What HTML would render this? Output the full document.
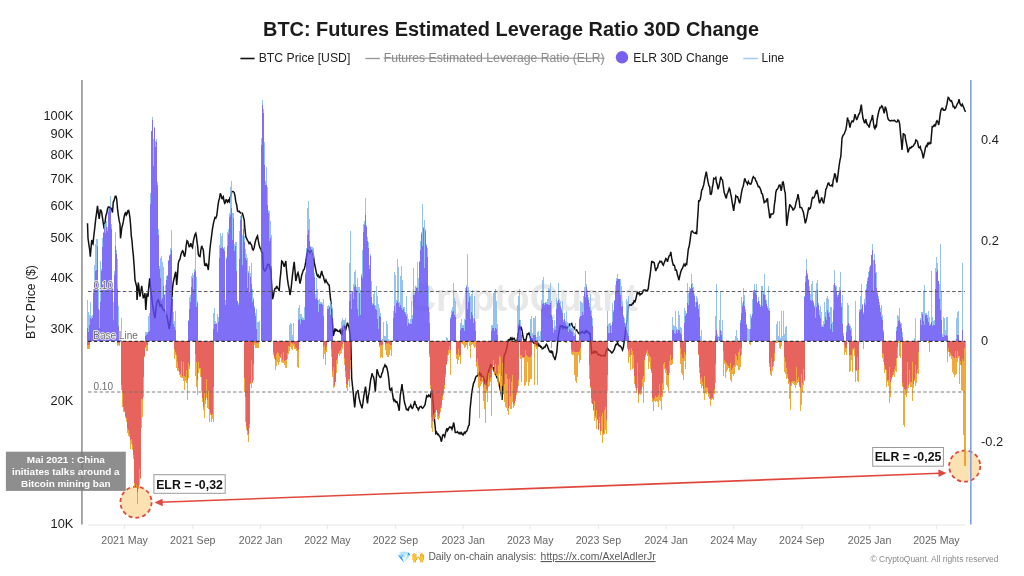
<!DOCTYPE html>
<html><head><meta charset="utf-8"><title>BTC: Futures Estimated Leverage Ratio 30D Change</title>
<style>html,body{margin:0;padding:0;background:#fff;overflow:hidden;width:1024px;height:576px;} svg{display:block;}</style></head>
<body><svg width="1024" height="576" viewBox="0 0 1024 576">
<rect width="1024" height="576" fill="#fff"/>
<text x="409" y="311" font-family="Liberation Sans, sans-serif" font-weight="bold" font-size="38" fill="#e8e8e8" textLength="229" lengthAdjust="spacingAndGlyphs">CryptoQuant</text>
<polyline points="87.5,223.3 88.0,238.3 88.8,244.0 89.7,250.0 90.3,256.7 91.0,248.5 91.7,240.0 92.3,243.3 93.0,244.0 93.8,236.0 94.7,228.3 95.8,218.3 96.7,212.1 97.5,205.8 98.3,212.7 99.2,219.0 100.3,210.0 101.0,210.3 101.7,212.5 102.5,217.9 103.3,223.3 104.2,229.0 105.0,222.8 105.8,215.8 106.7,213.3 107.5,209.0 108.3,207.0 109.2,207.5 110.0,207.2 110.8,208.0 111.7,209.0 112.5,212.5 113.3,201.7 114.0,200.8 114.6,198.6 115.3,196.2 116.0,196.2 116.7,199.0 117.5,208.4 118.3,215.0 119.2,220.9 120.0,224.0 120.5,238.3 121.1,233.8 121.7,228.3 122.5,225.3 123.3,221.7 124.2,216.5 125.0,213.3 125.7,212.7 126.3,215.0 127.1,213.6 127.9,210.7 128.7,210.5 129.3,213.5 130.0,218.3 130.7,226.3 131.3,235.8 132.0,240.8 132.6,248.5 133.3,255.0 134.2,266.7 135.0,280.0 135.8,283.2 136.7,286.7 137.0,300.0 137.7,292.3 138.3,282.5 139.2,289.7 140.0,296.7 140.8,291.7 141.7,285.8 142.5,292.0 143.3,298.3 144.2,296.3 145.0,293.3 145.8,310.0 146.4,301.5 147.0,293.3 148.0,296.7 148.8,286.8 149.7,278.3 150.4,285.9 151.0,292.1 151.7,296.7 152.5,304.4 153.3,310.0 154.2,314.8 155.0,318.3 155.8,310.2 156.7,303.3 157.5,300.8 158.3,300.0 159.2,302.7 160.0,306.7 160.8,304.6 161.7,305.0 162.5,308.3 163.3,310.0 164.2,310.1 165.0,310.8 165.8,313.9 166.7,315.0 167.5,318.8 168.3,323.3 169.2,329.2 170.0,324.3 170.8,316.7 171.7,303.5 172.5,288.3 173.3,281.8 174.2,278.3 175.0,274.1 175.8,271.7 176.7,285.0 177.5,275.4 178.3,263.3 179.1,260.4 180.0,259.2 180.8,255.0 181.7,252.6 182.5,250.8 183.2,251.5 184.0,255.1 184.7,256.7 185.5,252.2 186.2,245.4 187.0,240.8 187.7,241.5 188.5,244.2 189.2,246.7 190.0,246.4 190.8,243.3 191.7,246.2 192.5,247.5 193.3,241.4 194.2,237.5 195.0,234.6 195.8,233.3 196.4,236.3 197.0,241.7 197.7,246.6 198.3,254.2 199.2,256.3 200.0,256.7 200.8,250.3 201.7,245.8 202.5,248.1 203.3,250.0 204.0,257.7 204.7,265.8 205.4,264.3 206.0,265.4 206.7,264.2 207.5,266.0 208.3,270.0 209.0,261.3 209.7,251.7 210.4,245.0 211.0,240.3 211.7,235.0 212.5,228.7 213.3,224.2 214.2,220.2 215.0,217.5 215.8,218.1 216.7,215.8 217.3,211.3 218.0,205.0 218.8,200.5 219.5,198.4 220.3,193.3 221.2,195.4 222.0,199.2 222.7,197.6 223.3,196.7 224.0,201.1 224.7,203.3 225.4,202.6 226.0,199.9 226.7,200.0 227.5,202.0 228.4,200.3 229.2,201.7 230.0,197.6 230.9,195.9 231.7,191.7 232.5,191.5 233.4,191.6 234.2,192.5 235.0,195.8 235.8,201.7 236.7,205.0 237.5,210.8 238.3,211.6 239.2,211.2 240.0,212.5 240.8,213.1 241.7,212.6 242.5,213.3 243.3,216.5 244.2,220.0 245.0,229.7 245.8,236.7 246.6,238.3 247.5,240.3 248.3,241.7 249.1,243.6 250.0,242.4 250.8,244.2 251.6,245.1 252.5,249.3 253.3,250.0 254.2,247.5 255.0,243.0 255.8,239.9 256.7,237.4 257.5,236.0 258.3,240.7 259.2,245.3 260.0,248.0 260.8,248.6 261.7,252.4 262.5,252.5 263.3,267.7 264.1,270.5 265.0,271.0 265.8,269.6 266.6,267.4 267.5,264.8 268.3,264.3 269.1,264.6 270.0,269.0 270.8,269.3 271.6,283.5 272.5,299.3 273.4,295.8 274.2,291.0 275.0,288.6 275.9,288.6 276.7,286.0 277.5,288.0 278.4,288.7 279.2,291.0 280.0,280.0 280.9,271.7 281.7,261.0 282.5,261.6 283.4,264.1 284.2,266.8 285.0,264.1 285.8,261.0 286.6,271.2 287.5,279.3 288.3,284.9 289.2,289.1 290.0,295.0 290.9,290.1 291.7,282.7 292.5,274.8 293.4,267.3 294.2,261.8 295.0,270.7 295.8,281.0 296.5,278.1 297.3,274.1 298.0,272.7 298.7,275.3 299.3,279.5 300.0,283.5 300.8,280.1 301.7,275.2 302.5,272.7 303.3,270.1 304.2,269.4 305.0,266.0 305.8,261.9 306.7,255.3 307.5,249.3 308.3,251.0 309.2,251.8 310.0,252.7 310.8,251.1 311.7,250.2 312.5,251.0 313.3,254.6 314.2,262.2 315.0,266.0 315.8,269.9 316.7,274.1 317.5,276.0 318.3,275.1 319.2,277.5 320.0,277.7 320.9,274.3 321.7,271.0 322.5,274.7 323.4,276.5 324.2,280.0 325.0,282.1 325.9,279.9 326.7,281.8 327.5,283.0 328.4,284.6 329.2,285.0 330.0,294.2 330.8,301.0 331.4,307.6 332.0,312.7 332.6,325.0 333.3,336.0 334.1,333.1 335.0,328.5 335.8,330.6 336.7,329.7 337.5,331.0 338.3,331.2 339.2,331.5 340.0,330.0 340.9,333.3 341.7,334.3 342.5,330.7 343.4,328.5 344.2,324.3 345.0,327.9 345.8,329.3 346.6,326.2 347.5,322.7 348.4,325.6 349.2,327.7 350.0,334.3 350.8,341.7 351.7,378.3 352.5,386.0 353.3,393.3 354.0,400.7 354.7,407.5 355.8,395.0 356.5,392.1 357.3,392.1 358.0,390.0 358.7,395.4 359.3,398.9 360.0,401.7 360.7,404.6 361.3,405.8 362.0,408.3 362.9,403.2 363.7,396.7 364.6,391.9 365.5,386.7 366.2,392.1 366.8,398.8 367.5,403.3 368.3,396.0 369.2,391.9 370.0,385.0 370.7,379.7 371.3,377.5 372.0,373.3 372.7,375.5 373.5,377.0 374.2,380.0 375.3,391.7 376.1,381.0 377.0,369.2 377.9,372.1 378.7,375.0 379.5,376.6 380.3,377.5 381.0,377.1 381.8,373.4 382.5,372.5 383.3,368.5 384.2,366.9 385.0,365.0 385.7,366.6 386.3,366.3 387.0,368.3 387.9,372.3 388.7,378.3 389.7,389.2 390.4,390.1 391.0,389.1 391.7,388.3 392.5,393.6 393.3,399.2 394.0,400.9 394.6,399.7 395.3,400.8 396.0,402.1 396.8,401.6 397.5,403.3 398.4,406.8 399.2,410.8 400.3,395.0 401.1,390.5 402.0,384.2 402.6,390.0 403.3,393.3 404.0,399.4 404.7,403.3 405.5,405.9 406.3,409.2 407.0,409.7 407.6,409.2 408.3,410.0 409.1,407.2 410.0,406.7 410.8,405.0 411.6,407.7 412.5,408.3 413.2,406.8 414.0,403.9 414.7,400.8 415.4,404.4 416.0,404.6 416.7,407.5 417.5,407.8 418.3,410.0 419.0,408.8 419.6,407.1 420.3,406.7 421.0,406.4 421.8,407.5 422.5,408.3 423.3,407.6 424.2,406.1 425.0,405.0 425.9,399.8 426.7,395.8 427.4,396.6 428.0,396.7 428.7,395.0 429.5,395.7 430.3,396.7 431.1,392.1 432.0,390.0 432.6,396.1 433.3,405.0 434.0,414.5 434.7,421.7 435.8,433.3 436.6,432.2 437.5,434.5 438.3,434.2 439.1,435.7 440.0,436.7 440.6,438.6 441.3,441.7 441.9,439.6 442.5,435.8 443.2,434.7 444.0,435.3 444.7,436.7 445.5,433.2 446.3,430.0 447.0,428.3 447.6,430.5 448.3,429.2 449.0,427.8 449.6,427.0 450.3,427.5 451.1,427.0 452.0,429.2 452.9,426.2 453.7,422.5 454.5,427.3 455.3,432.5 456.0,432.6 456.8,432.4 457.5,431.7 458.3,432.9 459.2,433.6 460.0,432.5 460.8,433.7 461.5,432.8 462.2,434.3 463.0,435.0 463.7,433.5 464.3,432.4 465.0,433.3 465.8,431.8 466.7,431.2 467.5,429.2 468.4,426.1 469.2,425.0 470.0,410.0 470.9,401.0 471.7,393.3 472.6,387.8 473.5,383.3 474.4,381.6 475.2,378.8 476.1,376.4 476.8,376.0 477.5,375.8 478.1,374.0 478.8,374.5 479.5,372.9 480.2,374.8 480.9,373.1 481.6,376.3 482.3,376.4 483.0,376.4 483.9,378.2 484.7,382.0 485.6,385.0 486.5,381.4 487.3,378.2 488.2,373.0 489.1,369.7 489.9,367.3 490.8,364.2 491.7,366.5 492.5,367.4 493.4,367.7 494.3,371.4 495.1,372.3 496.0,374.7 496.9,377.5 497.7,378.4 498.6,381.6 499.3,385.3 500.0,388.7 500.6,391.2 501.3,393.8 502.1,400.0 503.0,379.3 503.9,357.3 504.6,354.0 505.3,353.6 505.9,351.4 506.6,348.9 507.3,345.0 508.2,340.0 509.0,339.7 509.7,340.1 510.5,338.3 511.2,339.6 512.0,338.0 512.7,339.6 513.4,338.6 514.1,338.3 514.8,339.9 515.5,340.8 516.2,342.0 516.9,341.7 517.8,336.4 518.6,329.8 519.5,326.0 520.3,328.4 521.2,327.6 522.0,330.4 522.9,336.1 523.8,340.0 524.7,339.9 525.6,341.7 526.5,337.3 527.3,333.9 528.1,334.3 529.0,333.0 529.9,335.4 530.8,340.0 531.5,339.6 532.3,341.4 533.0,342.0 533.8,343.0 534.5,343.7 535.2,343.6 536.0,343.4 536.7,345.3 537.4,344.4 538.0,346.3 538.7,344.2 539.4,346.0 540.1,345.7 540.8,347.1 541.5,346.9 542.2,348.8 542.9,348.6 543.6,348.2 544.3,346.9 545.0,347.1 545.7,345.3 546.4,344.3 547.3,345.7 548.1,347.9 549.0,350.3 549.7,351.7 550.4,352.2 551.1,350.4 551.8,352.7 552.5,352.0 553.3,356.1 554.2,357.4 555.0,360.0 555.9,356.2 556.8,352.0 557.6,342.5 558.5,334.7 559.4,330.5 560.3,326.0 561.0,326.2 561.7,326.7 562.4,325.2 563.1,328.2 563.8,327.0 564.5,327.2 565.2,327.0 565.8,328.4 566.5,327.8 567.2,327.8 568.0,327.1 568.7,326.9 569.5,324.3 570.2,325.0 571.0,324.0 571.7,323.5 572.5,326.3 573.4,327.7 574.2,327.2 575.0,329.3 575.8,330.1 576.6,329.9 577.5,331.7 578.3,332.7 579.0,333.6 579.7,333.9 580.3,332.6 581.0,332.2 581.7,332.7 582.5,331.5 583.4,332.6 584.2,333.3 585.0,331.8 585.7,330.9 586.4,333.1 587.1,331.1 587.9,331.9 588.6,332.2 589.3,333.8 590.0,333.5 590.9,342.9 591.7,353.3 592.5,352.5 593.3,353.0 594.2,351.2 595.0,352.7 595.8,351.7 596.6,351.7 597.5,353.9 598.3,355.0 599.1,354.5 600.0,354.6 600.8,355.8 601.5,355.9 602.2,355.6 602.9,355.4 603.6,355.5 604.3,355.9 605.0,355.8 605.8,352.3 606.7,349.9 607.5,348.3 608.3,349.5 609.2,350.4 610.0,350.8 610.8,351.5 611.7,353.0 612.5,352.5 613.3,350.9 614.2,349.7 615.0,346.7 615.8,344.5 616.7,344.6 617.5,342.5 618.3,344.5 619.2,345.9 620.0,345.8 620.8,346.6 621.7,348.0 622.5,350.0 623.4,347.1 624.2,341.7 625.0,336.0 625.8,327.9 626.6,322.9 627.5,315.3 628.3,306.8 629.1,305.1 630.0,304.8 630.8,305.0 631.6,305.2 632.5,303.3 633.3,303.5 634.1,300.9 635.0,301.7 635.8,299.3 636.6,295.3 637.5,291.8 638.3,293.7 639.2,292.8 640.0,295.0 640.8,293.9 641.7,294.0 642.5,292.7 643.3,290.4 644.2,290.0 645.0,290.0 645.8,290.2 646.6,290.5 647.5,290.3 648.3,288.5 649.1,281.1 650.0,276.0 650.9,268.5 651.7,261.0 652.5,262.3 653.4,262.1 654.2,262.7 655.0,267.4 655.8,271.0 656.6,268.4 657.5,267.7 658.4,263.9 659.2,262.7 660.0,261.1 660.8,261.8 661.6,261.5 662.5,264.2 663.3,265.2 664.1,263.0 665.0,260.9 665.8,258.5 666.6,259.1 667.5,261.8 668.3,258.4 669.1,255.9 670.0,255.3 670.8,251.8 671.6,257.7 672.5,262.0 673.3,265.2 674.0,265.1 674.7,266.2 675.3,270.0 676.0,269.7 676.7,271.0 677.4,274.9 678.1,276.6 678.8,280.2 679.5,277.3 680.1,274.6 680.8,271.8 681.6,269.7 682.5,268.2 683.3,266.0 684.0,264.2 684.7,265.9 685.3,266.0 686.0,263.7 686.7,264.3 687.5,256.7 688.3,249.3 689.2,246.0 689.9,242.0 690.6,236.2 691.3,231.7 692.0,231.1 692.6,231.2 693.3,232.5 694.1,232.9 695.0,233.3 695.9,232.3 696.7,234.2 697.5,220.0 698.1,211.6 698.7,200.8 699.5,200.9 700.3,199.2 701.0,195.2 701.7,190.0 702.4,189.4 703.0,187.1 703.7,185.0 704.4,181.0 705.0,177.5 705.6,174.9 706.3,171.7 707.1,176.7 708.0,181.7 708.9,185.6 709.7,186.7 710.3,194.2 711.0,194.3 711.7,192.5 712.4,187.0 713.0,184.3 713.7,178.3 714.4,178.8 715.1,178.6 715.8,177.5 716.5,182.3 717.3,185.0 718.0,189.2 718.7,187.3 719.4,184.1 720.1,180.4 720.8,176.7 721.6,179.2 722.5,180.0 723.4,187.0 724.2,192.5 724.9,194.2 725.6,197.0 726.3,198.3 727.0,194.5 727.8,192.8 728.5,190.7 729.2,188.3 729.9,189.6 730.6,193.5 731.3,196.7 732.1,201.8 732.9,206.5 733.7,210.8 734.4,205.0 735.1,202.1 735.8,195.8 736.6,196.7 737.5,196.7 738.2,198.4 739.0,201.6 739.7,203.3 740.4,199.6 741.0,195.7 741.7,191.7 742.5,188.0 743.2,186.5 744.0,182.1 744.7,178.3 745.4,180.3 746.0,181.9 746.7,182.5 747.5,184.2 748.4,181.6 749.2,183.3 750.0,184.1 750.8,184.2 751.6,182.4 752.5,178.5 753.3,176.7 754.1,177.8 755.0,178.1 755.8,180.8 756.6,181.9 757.5,184.4 758.3,186.7 759.1,186.6 760.0,188.2 760.8,190.0 761.6,193.3 762.5,194.2 763.4,198.5 764.2,202.5 765.0,201.5 765.9,201.8 766.7,199.6 767.5,198.3 768.2,206.2 769.0,211.5 769.7,217.5 770.4,217.3 771.0,214.0 771.7,214.2 772.4,213.9 773.0,213.8 773.7,212.5 774.4,204.5 775.1,200.5 775.8,192.5 776.6,189.8 777.5,189.1 778.3,187.5 779.1,185.3 780.0,185.0 780.6,187.9 781.2,190.8 781.9,187.0 782.5,182.5 783.1,182.0 783.7,184.2 784.5,190.1 785.3,193.3 786.0,209.3 786.7,225.8 787.5,219.6 788.3,213.3 789.0,209.4 789.7,205.0 790.5,205.4 791.3,206.7 792.1,207.7 793.0,210.0 793.7,209.6 794.3,208.5 795.0,207.5 795.9,203.1 796.7,200.0 797.4,197.7 798.0,194.2 798.7,198.0 799.3,201.6 800.0,207.5 800.8,207.6 801.7,207.8 802.5,210.0 803.4,212.3 804.2,216.7 805.3,223.3 806.1,220.8 807.0,216.7 807.9,211.8 808.7,207.5 809.5,209.1 810.3,208.3 811.0,205.4 811.8,199.8 812.5,197.5 813.3,198.1 814.2,197.2 815.0,195.0 815.7,192.1 816.3,192.9 817.0,190.0 817.7,193.1 818.4,196.6 819.0,201.4 819.7,203.3 820.4,200.6 821.0,199.5 821.7,197.5 822.4,200.7 823.0,202.0 823.7,203.3 824.4,198.5 825.1,195.3 825.8,189.2 826.5,188.2 827.3,185.6 828.0,183.3 828.8,183.0 829.5,185.3 830.3,185.8 831.0,185.7 831.8,184.9 832.5,185.8 833.2,180.3 834.0,177.6 834.7,173.3 835.5,175.2 836.2,179.3 837.0,182.5 837.7,177.2 838.5,170.7 839.2,165.0 840.0,160.1 840.8,156.7 841.4,147.7 842.0,138.3 842.6,136.4 843.3,135.0 844.1,134.2 845.0,131.8 845.8,130.0 846.6,125.2 847.5,117.5 848.1,120.5 848.7,120.8 849.4,124.9 850.0,127.5 850.6,124.2 851.3,122.5 852.1,120.9 853.0,121.7 853.7,120.4 854.3,117.6 855.0,114.2 855.9,117.5 856.7,120.0 857.4,117.9 858.0,116.7 858.7,114.3 859.3,113.9 860.0,111.7 860.6,108.4 861.3,104.7 862.1,111.8 863.0,118.3 863.9,121.2 864.7,123.3 865.8,119.2 866.6,122.9 867.5,125.0 868.4,125.3 869.2,127.5 870.0,123.4 870.8,120.8 871.6,119.3 872.5,115.0 873.4,122.5 874.2,127.5 874.9,128.6 875.6,126.1 876.3,127.5 877.1,119.9 878.0,115.0 878.7,111.8 879.3,109.8 880.0,107.5 880.8,107.6 881.7,105.8 882.5,106.7 883.4,110.1 884.2,113.3 885.3,106.7 886.0,108.8 886.8,112.1 887.5,116.7 888.1,118.9 888.7,120.0 889.4,120.4 890.1,120.9 890.8,120.8 891.6,120.4 892.5,120.7 893.3,120.8 894.1,120.2 895.0,120.9 895.8,121.7 896.5,121.9 897.3,121.6 898.0,120.0 898.9,120.8 899.7,124.2 900.8,136.7 901.4,142.2 902.0,150.0 902.6,142.6 903.3,133.3 904.1,134.5 905.0,135.0 905.6,139.6 906.3,142.5 907.1,146.6 908.0,152.5 908.7,150.6 909.3,148.4 910.0,147.5 910.8,148.2 911.7,146.6 912.5,146.7 913.4,145.9 914.2,144.2 915.0,143.6 915.8,140.0 916.6,140.3 917.5,141.7 918.1,144.7 918.7,147.5 919.5,147.8 920.3,146.7 921.0,150.0 921.7,150.8 922.5,154.3 923.3,158.3 924.0,154.6 924.7,151.7 925.5,147.5 926.3,145.8 927.0,146.4 927.6,143.5 928.3,144.2 929.1,142.6 930.0,143.8 930.8,143.3 931.5,135.0 932.2,126.7 933.0,126.8 933.7,125.8 934.4,124.9 935.0,126.1 935.7,125.0 936.4,121.6 937.0,120.8 937.9,122.0 938.7,125.0 939.5,119.6 940.3,113.3 941.1,109.5 942.0,108.3 942.7,108.3 943.3,110.1 944.0,110.0 944.9,110.2 945.7,109.2 946.4,106.0 947.0,104.2 947.6,99.8 948.2,97.5 949.0,98.3 949.8,100.0 950.6,101.1 951.5,100.8 952.4,103.3 953.2,106.7 954.0,106.4 954.8,108.3 955.6,107.7 956.5,105.8 957.3,103.8 958.2,102.7 959.0,99.2 959.9,103.4 960.7,105.0 961.5,105.8 962.3,104.2 963.1,106.1 964.0,108.3 964.9,110.9 965.7,111.7" fill="none" stroke="#111" stroke-width="1.5" stroke-linejoin="miter" stroke-miterlimit="3"/>
<circle cx="136" cy="502.2" r="15.6" fill="#fcdca6" fill-opacity="0.85" stroke="#e0483e" stroke-width="1.8" stroke-dasharray="4 3"/>
<circle cx="964.7" cy="466.1" r="15.6" fill="#fcdca6" fill-opacity="0.85" stroke="#e0483e" stroke-width="1.8" stroke-dasharray="4 3"/>
<g opacity="0.8" shape-rendering="crispEdges">
<path d="M87 341v-41.0h1v41.0zM88 341v-29.5h1v29.5zM89 341v-26.3h1v26.3zM90 341v-39.0h1v39.0zM91 341v-24.9h1v24.9zM92 341v-25.9h1v25.9zM93 341v-51.8h1v51.8zM94 341v-76.3h1v76.3zM95 341v-97.2h1v97.2zM96 341v-102.0h1v102.0zM97 341v-102.0h1v102.0zM98 341v-52.3h1v52.3zM99 341v-30.7h1v30.7zM100 341v-80.3h1v80.3zM101 341v-71.9h1v71.9zM102 341v-103.3h1v103.3zM103 341v-108.9h1v108.9zM104 341v-117.0h1v117.0zM105 341v-117.9h1v117.9zM106 341v-119.7h1v119.7zM107 341v-114.4h1v114.4zM108 341v-132.1h1v132.1zM109 341v-132.6h1v132.6zM110 341v-145.0h1v145.0zM111 341v-117.0h1v117.0zM112 341v-59.4h1v59.4zM113 341v-38.7h1v38.7zM114 341v-70.0h1v70.0zM115 341v-109.0h1v109.0zM116 341v-90.6h1v90.6zM117 341v-82.4h1v82.4zM118 341v-35.2h1v35.2zM119 341v-5.2h1v5.2zM120 341v-3.2h1v3.2zM121 341v-22.9h1v22.9zM145 341v-9.1h1v9.1zM146 341v-9.3h1v9.3zM147 341v-9.1h1v9.1zM148 341v-25.5h1v25.5zM149 341v-28.0h1v28.0zM150 341v-148.1h1v148.1zM151 341v-210.0h1v210.0zM152 341v-224.0h1v224.0zM153 341v-201.9h1v201.9zM154 341v-214.4h1v214.4zM155 341v-200.3h1v200.3zM156 341v-202.0h1v202.0zM157 341v-159.0h1v159.0zM158 341v-111.8h1v111.8zM159 341v-75.1h1v75.1zM160 341v-82.7h1v82.7zM161 341v-85.0h1v85.0zM162 341v-79.0h1v79.0zM163 341v-74.2h1v74.2zM164 341v-47.0h1v47.0zM165 341v-55.7h1v55.7zM166 341v-65.1h1v65.1zM167 341v-66.0h1v66.0zM168 341v-81.5h1v81.5zM169 341v-86.1h1v86.1zM170 341v-93.1h1v93.1zM171 341v-111.0h1v111.0zM172 341v-44.3h1v44.3zM173 341v-28.6h1v28.6zM174 341v-19.7h1v19.7zM175 341v-30.0h1v30.0zM188 341v-20.8h1v20.8zM189 341v-44.3h1v44.3zM190 341v-46.1h1v46.1zM191 341v-65.3h1v65.3zM192 341v-68.5h1v68.5zM193 341v-66.5h1v66.5zM194 341v-72.1h1v72.1zM195 341v-95.0h1v95.0zM196 341v-63.9h1v63.9zM197 341v-39.8h1v39.8zM213 341v-28.1h1v28.1zM214 341v-33.0h1v33.0zM215 341v-19.6h1v19.6zM216 341v-18.3h1v18.3zM217 341v-26.8h1v26.8zM218 341v-23.9h1v23.9zM219 341v-96.0h1v96.0zM220 341v-108.0h1v108.0zM221 341v-105.5h1v105.5zM222 341v-108.0h1v108.0zM223 341v-93.4h1v93.4zM224 341v-94.5h1v94.5zM225 341v-41.0h1v41.0zM226 341v-84.5h1v84.5zM227 341v-109.0h1v109.0zM228 341v-111.8h1v111.8zM229 341v-127.9h1v127.9zM230 341v-153.7h1v153.7zM231 341v-160.0h1v160.0zM232 341v-128.3h1v128.3zM233 341v-127.9h1v127.9zM234 341v-97.5h1v97.5zM235 341v-99.0h1v99.0zM236 341v-99.0h1v99.0zM237 341v-40.1h1v40.1zM238 341v-37.8h1v37.8zM239 341v-109.6h1v109.6zM240 341v-124.8h1v124.8zM241 341v-129.3h1v129.3zM242 341v-106.2h1v106.2zM243 341v-119.4h1v119.4zM244 341v-105.0h1v105.0zM245 341v-92.2h1v92.2zM246 341v-86.6h1v86.6zM247 341v-83.2h1v83.2zM248 341v-70.4h1v70.4zM249 341v-75.4h1v75.4zM250 341v-68.1h1v68.1zM251 341v-78.3h1v78.3zM252 341v-52.4h1v52.4zM253 341v-43.4h1v43.4zM254 341v-34.6h1v34.6zM255 341v-27.7h1v27.7zM256 341v-31.6h1v31.6zM257 341v-19.0h1v19.0zM258 341v-19.0h1v19.0zM259 341v-20.0h1v20.0zM261 341v-202.9h1v202.9zM262 341v-241.2h1v241.2zM263 341v-231.9h1v231.9zM264 341v-198.8h1v198.8zM265 341v-159.8h1v159.8zM266 341v-174.1h1v174.1zM267 341v-154.3h1v154.3zM268 341v-130.9h1v130.9zM269 341v-130.5h1v130.5zM270 341v-119.8h1v119.8zM271 341v-105.6h1v105.6zM289 341v-16.2h1v16.2zM290 341v-18.0h1v18.0zM291 341v-16.6h1v16.6zM292 341v-5.8h1v5.8zM293 341v-18.0h1v18.0zM298 341v-32.8h1v32.8zM299 341v-36.0h1v36.0zM300 341v-26.9h1v26.9zM301 341v-27.0h1v27.0zM302 341v-24.1h1v24.1zM303 341v-22.9h1v22.9zM304 341v-33.6h1v33.6zM305 341v-69.5h1v69.5zM306 341v-93.4h1v93.4zM307 341v-133.5h1v133.5zM308 341v-140.0h1v140.0zM309 341v-122.0h1v122.0zM310 341v-94.9h1v94.9zM311 341v-94.5h1v94.5zM312 341v-93.8h1v93.8zM313 341v-93.1h1v93.1zM314 341v-68.2h1v68.2zM315 341v-46.7h1v46.7zM316 341v-62.6h1v62.6zM317 341v-52.1h1v52.1zM318 341v-40.8h1v40.8zM319 341v-42.0h1v42.0zM320 341v-39.0h1v39.0zM321 341v-39.3h1v39.3zM322 341v-38.3h1v38.3zM323 341v-42.0h1v42.0zM327 341v-35.0h1v35.0zM328 341v-35.9h1v35.9zM329 341v-35.0h1v35.0zM330 341v-40.0h1v40.0zM331 341v-36.8h1v36.8zM332 341v-32.6h1v32.6zM341 341v-19.8h1v19.8zM342 341v-23.0h1v23.0zM343 341v-21.4h1v21.4zM344 341v-20.7h1v20.7zM345 341v-23.0h1v23.0zM349 341v-78.5h1v78.5zM350 341v-110.0h1v110.0zM351 341v-49.1h1v49.1zM352 341v-50.2h1v50.2zM353 341v-57.2h1v57.2zM354 341v-68.8h1v68.8zM355 341v-71.0h1v71.0zM356 341v-53.8h1v53.8zM357 341v-62.7h1v62.7zM358 341v-54.0h1v54.0zM359 341v-54.4h1v54.4zM360 341v-51.0h1v51.0zM361 341v-66.8h1v66.8zM362 341v-90.7h1v90.7zM363 341v-117.3h1v117.3zM364 341v-120.5h1v120.5zM365 341v-143.0h1v143.0zM366 341v-115.6h1v115.6zM367 341v-104.0h1v104.0zM368 341v-99.0h1v99.0zM369 341v-75.6h1v75.6zM370 341v-87.0h1v87.0zM371 341v-60.5h1v60.5zM372 341v-37.9h1v37.9zM373 341v-47.0h1v47.0zM374 341v-49.0h1v49.0zM375 341v-36.0h1v36.0zM376 341v-55.0h1v55.0zM377 341v-44.7h1v44.7zM378 341v-37.3h1v37.3zM379 341v-32.6h1v32.6zM380 341v-28.0h1v28.0zM381 341v-1.3h1v1.3zM382 341v-2.1h1v2.1zM383 341v-19.2h1v19.2zM384 341v-5.1h1v5.1zM385 341v-5.4h1v5.4zM386 341v-19.6h1v19.6zM387 341v-17.3h1v17.3zM388 341v-2.2h1v2.2zM393 341v-29.6h1v29.6zM394 341v-69.1h1v69.1zM395 341v-66.4h1v66.4zM396 341v-41.5h1v41.5zM397 341v-82.0h1v82.0zM398 341v-73.9h1v73.9zM399 341v-39.3h1v39.3zM400 341v-65.4h1v65.4zM401 341v-75.0h1v75.0zM402 341v-60.6h1v60.6zM403 341v-34.1h1v34.1zM404 341v-33.6h1v33.6zM405 341v-29.5h1v29.5zM406 341v-45.0h1v45.0zM407 341v-26.7h1v26.7zM408 341v-21.7h1v21.7zM409 341v-18.4h1v18.4zM410 341v-22.1h1v22.1zM411 341v-40.2h1v40.2zM412 341v-25.6h1v25.6zM413 341v-73.1h1v73.1zM414 341v-47.8h1v47.8zM415 341v-55.0h1v55.0zM416 341v-54.1h1v54.1zM417 341v-79.0h1v79.0zM418 341v-63.0h1v63.0zM419 341v-80.2h1v80.2zM420 341v-99.8h1v99.8zM421 341v-108.8h1v108.8zM422 341v-137.0h1v137.0zM423 341v-114.1h1v114.1zM424 341v-121.3h1v121.3zM425 341v-111.8h1v111.8zM426 341v-96.7h1v96.7zM427 341v-93.1h1v93.1zM428 341v-55.3h1v55.3zM429 341v-29.0h1v29.0zM446 341v-3.6h1v3.6zM447 341v-2.6h1v2.6zM450 341v-24.5h1v24.5zM451 341v-31.3h1v31.3zM452 341v-34.2h1v34.2zM453 341v-58.0h1v58.0zM454 341v-43.5h1v43.5zM455 341v-40.0h1v40.0zM460 341v-17.7h1v17.7zM461 341v-22.0h1v22.0zM462 341v-16.4h1v16.4zM463 341v-16.2h1v16.2zM464 341v-22.0h1v22.0zM465 341v-53.3h1v53.3zM466 341v-55.6h1v55.6zM467 341v-87.0h1v87.0zM468 341v-54.1h1v54.1zM469 341v-48.0h1v48.0zM470 341v-45.0h1v45.0zM471 341v-47.2h1v47.2zM472 341v-51.0h1v51.0zM473 341v-23.4h1v23.4zM474 341v-45.3h1v45.3zM475 341v-19.8h1v19.8zM491 341v-15.9h1v15.9zM492 341v-15.8h1v15.8zM493 341v-47.6h1v47.6zM494 341v-50.3h1v50.3zM495 341v-52.0h1v52.0zM496 341v-40.4h1v40.4zM497 341v-16.8h1v16.8zM517 341v-35.8h1v35.8zM518 341v-44.6h1v44.6zM519 341v-52.0h1v52.0zM520 341v-20.7h1v20.7zM521 341v-9.9h1v9.9zM530 341v-22.0h1v22.0zM531 341v-25.0h1v25.0zM532 341v-8.2h1v8.2zM533 341v-23.5h1v23.5zM534 341v-22.6h1v22.6zM535 341v-25.0h1v25.0zM536 341v-4.4h1v4.4zM537 341v-9.4h1v9.4zM538 341v-10.0h1v10.0zM539 341v-5.1h1v5.1zM540 341v-9.9h1v9.9zM541 341v-41.5h1v41.5zM542 341v-60.7h1v60.7zM543 341v-64.0h1v64.0zM544 341v-38.2h1v38.2zM545 341v-39.3h1v39.3zM546 341v-39.0h1v39.0zM547 341v-42.0h1v42.0zM548 341v-53.1h1v53.1zM549 341v-51.9h1v51.9zM550 341v-58.0h1v58.0zM551 341v-39.9h1v39.9zM552 341v-24.1h1v24.1zM553 341v-13.2h1v13.2zM554 341v-20.7h1v20.7zM555 341v-14.7h1v14.7zM556 341v-43.5h1v43.5zM557 341v-40.1h1v40.1zM558 341v-58.0h1v58.0zM559 341v-42.5h1v42.5zM560 341v-39.7h1v39.7zM561 341v-33.3h1v33.3zM562 341v-40.3h1v40.3zM563 341v-21.1h1v21.1zM564 341v-27.7h1v27.7zM565 341v-20.1h1v20.1zM566 341v-30.0h1v30.0zM567 341v-19.5h1v19.5zM568 341v-18.3h1v18.3zM569 341v-14.7h1v14.7zM570 341v-16.7h1v16.7zM571 341v-12.7h1v12.7zM572 341v-13.6h1v13.6zM573 341v-13.5h1v13.5zM574 341v-8.2h1v8.2zM575 341v-17.8h1v17.8zM579 341v-23.6h1v23.6zM580 341v-40.0h1v40.0zM581 341v-39.1h1v39.1zM582 341v-38.2h1v38.2zM583 341v-44.8h1v44.8zM584 341v-54.0h1v54.0zM585 341v-70.0h1v70.0zM586 341v-57.0h1v57.0zM587 341v-51.1h1v51.1zM588 341v-44.2h1v44.2zM589 341v-37.6h1v37.6zM590 341v-47.4h1v47.4zM591 341v-31.1h1v31.1zM592 341v-22.6h1v22.6zM607 341v-30.0h1v30.0zM608 341v-17.1h1v17.1zM609 341v-18.4h1v18.4zM610 341v-17.9h1v17.9zM611 341v-16.4h1v16.4zM612 341v-38.5h1v38.5zM613 341v-30.8h1v30.8zM614 341v-41.3h1v41.3zM615 341v-55.7h1v55.7zM616 341v-62.6h1v62.6zM617 341v-67.5h1v67.5zM618 341v-61.7h1v61.7zM619 341v-62.3h1v62.3zM620 341v-62.1h1v62.1zM621 341v-55.2h1v55.2zM622 341v-39.6h1v39.6zM623 341v-26.3h1v26.3zM624 341v-22.6h1v22.6zM625 341v-17.5h1v17.5zM626 341v-41.7h1v41.7zM627 341v-39.7h1v39.7zM628 341v-45.0h1v45.0zM672 341v-24.1h1v24.1zM673 341v-16.5h1v16.5zM674 341v-14.7h1v14.7zM675 341v-30.0h1v30.0zM676 341v-14.0h1v14.0zM677 341v-12.2h1v12.2zM678 341v-30.0h1v30.0zM679 341v-25.7h1v25.7zM680 341v-13.6h1v13.6zM681 341v-13.3h1v13.3zM684 341v-32.7h1v32.7zM685 341v-30.2h1v30.2zM686 341v-28.5h1v28.5zM687 341v-58.0h1v58.0zM688 341v-47.7h1v47.7zM689 341v-54.4h1v54.4zM690 341v-53.5h1v53.5zM691 341v-67.5h1v67.5zM692 341v-58.5h1v58.5zM693 341v-54.4h1v54.4zM694 341v-46.8h1v46.8zM695 341v-39.0h1v39.0zM696 341v-45.0h1v45.0zM697 341v-42.9h1v42.9zM698 341v-36.1h1v36.1zM699 341v-37.4h1v37.4zM700 341v-5.4h1v5.4zM701 341v-11.0h1v11.0zM715 341v-24.9h1v24.9zM716 341v-57.0h1v57.0zM717 341v-7.3h1v7.3zM718 341v-4.8h1v4.8zM719 341v-20.8h1v20.8zM720 341v-50.0h1v50.0zM721 341v-9.8h1v9.8zM722 341v-21.0h1v21.0zM735 341v-4.7h1v4.7zM736 341v-11.0h1v11.0zM737 341v-3.3h1v3.3zM740 341v-21.0h1v21.0zM741 341v-44.2h1v44.2zM742 341v-37.8h1v37.8zM743 341v-53.0h1v53.0zM744 341v-45.7h1v45.7zM745 341v-32.1h1v32.1zM746 341v-17.1h1v17.1zM747 341v-13.0h1v13.0zM748 341v-12.1h1v12.1zM749 341v-11.9h1v11.9zM750 341v-27.3h1v27.3zM751 341v-25.1h1v25.1zM752 341v-41.6h1v41.6zM753 341v-51.0h1v51.0zM754 341v-57.0h1v57.0zM755 341v-50.7h1v50.7zM756 341v-57.0h1v57.0zM757 341v-39.4h1v39.4zM758 341v-44.3h1v44.3zM759 341v-39.7h1v39.7zM760 341v-36.4h1v36.4zM761 341v-55.1h1v55.1zM762 341v-54.7h1v54.7zM763 341v-50.2h1v50.2zM764 341v-67.0h1v67.0zM765 341v-45.9h1v45.9zM766 341v-40.9h1v40.9zM767 341v-35.2h1v35.2zM768 341v-55.4h1v55.4zM769 341v-33.2h1v33.2zM776 341v-16.7h1v16.7zM777 341v-20.0h1v20.0zM778 341v-4.6h1v4.6zM779 341v-20.0h1v20.0zM780 341v-3.0h1v3.0zM781 341v-30.0h1v30.0zM782 341v-4.8h1v4.8zM783 341v-30.0h1v30.0zM784 341v-7.0h1v7.0zM785 341v-14.1h1v14.1zM786 341v-15.0h1v15.0zM804 341v-45.1h1v45.1zM805 341v-65.1h1v65.1zM806 341v-82.5h1v82.5zM807 341v-67.6h1v67.6zM808 341v-62.4h1v62.4zM809 341v-55.1h1v55.1zM810 341v-46.6h1v46.6zM811 341v-57.3h1v57.3zM812 341v-60.0h1v60.0zM813 341v-39.8h1v39.8zM814 341v-36.2h1v36.2zM815 341v-49.2h1v49.2zM816 341v-57.6h1v57.6zM817 341v-61.0h1v61.0zM818 341v-37.7h1v37.7zM819 341v-31.5h1v31.5zM820 341v-34.6h1v34.6zM821 341v-29.4h1v29.4zM822 341v-16.5h1v16.5zM823 341v-20.3h1v20.3zM824 341v-38.6h1v38.6zM825 341v-29.5h1v29.5zM826 341v-43.5h1v43.5zM827 341v-45.0h1v45.0zM828 341v-41.7h1v41.7zM829 341v-29.1h1v29.1zM830 341v-33.9h1v33.9zM831 341v-34.2h1v34.2zM832 341v-19.5h1v19.5zM833 341v-55.9h1v55.9zM834 341v-71.0h1v71.0zM835 341v-56.3h1v56.3zM836 341v-55.0h1v55.0zM837 341v-45.6h1v45.6zM838 341v-47.8h1v47.8zM839 341v-53.9h1v53.9zM840 341v-69.0h1v69.0zM841 341v-38.2h1v38.2zM842 341v-45.9h1v45.9zM843 341v-8.5h1v8.5zM846 341v-15.3h1v15.3zM847 341v-38.3h1v38.3zM848 341v-35.8h1v35.8zM849 341v-17.0h1v17.0zM850 341v-14.7h1v14.7zM851 341v-13.1h1v13.1zM854 341v-1.3h1v1.3zM855 341v-40.0h1v40.0zM859 341v-31.9h1v31.9zM860 341v-44.8h1v44.8zM861 341v-57.0h1v57.0zM862 341v-37.2h1v37.2zM863 341v-28.8h1v28.8zM864 341v-42.3h1v42.3zM865 341v-50.8h1v50.8zM866 341v-56.6h1v56.6zM867 341v-63.5h1v63.5zM868 341v-68.8h1v68.8zM869 341v-73.6h1v73.6zM870 341v-76.1h1v76.1zM871 341v-86.1h1v86.1zM872 341v-97.0h1v97.0zM873 341v-80.6h1v80.6zM874 341v-86.6h1v86.6zM875 341v-76.7h1v76.7zM876 341v-69.4h1v69.4zM877 341v-49.9h1v49.9zM878 341v-44.7h1v44.7zM879 341v-39.4h1v39.4zM880 341v-33.4h1v33.4zM881 341v-35.6h1v35.6zM882 341v-26.0h1v26.0zM883 341v-10.6h1v10.6zM896 341v-13.9h1v13.9zM897 341v-26.1h1v26.1zM898 341v-24.9h1v24.9zM899 341v-33.3h1v33.3zM900 341v-19.1h1v19.1zM901 341v-18.3h1v18.3zM902 341v-9.2h1v9.2zM914 341v-3.5h1v3.5zM915 341v-23.0h1v23.0zM920 341v-22.9h1v22.9zM921 341v-29.4h1v29.4zM922 341v-29.5h1v29.5zM923 341v-49.2h1v49.2zM924 341v-56.0h1v56.0zM925 341v-28.2h1v28.2zM926 341v-28.4h1v28.4zM927 341v-25.6h1v25.6zM928 341v-30.3h1v30.3zM929 341v-23.7h1v23.7zM930 341v-16.9h1v16.9zM931 341v-70.0h1v70.0zM932 341v-23.9h1v23.9zM933 341v-20.0h1v20.0zM934 341v-20.9h1v20.9zM935 341v-72.8h1v72.8zM936 341v-84.0h1v84.0zM937 341v-78.0h1v78.0zM938 341v-60.5h1v60.5zM939 341v-56.8h1v56.8zM940 341v-97.0h1v97.0zM941 341v-48.9h1v48.9zM942 341v-7.2h1v7.2zM943 341v-24.0h1v24.0zM944 341v-23.2h1v23.2zM945 341v-11.2h1v11.2zM946 341v-23.6h1v23.6zM947 341v-24.0h1v24.0zM956 341v-22.8h1v22.8zM957 341v-28.8h1v28.8zM958 341v-30.0h1v30.0zM962 341v-78.0h1v78.0z" fill="#7cb4ec"/>
<path d="M87 341v-13.2h1v13.2zM88 341v-9.4h1v9.4zM89 341v-16.3h1v16.3zM90 341v-23.0h1v23.0zM91 341v-22.4h1v22.4zM92 341v-23.4h1v23.4zM93 341v-48.0h1v48.0zM94 341v-53.7h1v53.7zM95 341v-70.3h1v70.3zM96 341v-71.0h1v71.0zM97 341v-95.3h1v95.3zM98 341v-32.3h1v32.3zM99 341v-13.2h1v13.2zM100 341v-39.4h1v39.4zM101 341v-70.1h1v70.1zM102 341v-94.5h1v94.5zM103 341v-107.8h1v107.8zM104 341v-112.1h1v112.1zM105 341v-107.8h1v107.8zM106 341v-113.8h1v113.8zM107 341v-110.1h1v110.1zM108 341v-129.4h1v129.4zM109 341v-132.6h1v132.6zM110 341v-134.0h1v134.0zM111 341v-111.9h1v111.9zM112 341v-56.6h1v56.6zM113 341v-21.1h1v21.1zM114 341v-66.3h1v66.3zM115 341v-95.0h1v95.0zM116 341v-87.3h1v87.3zM117 341v-52.2h1v52.2zM118 341v-14.6h1v14.6zM145 341v-4.9h1v4.9zM146 341v-5.6h1v5.6zM147 341v-6.6h1v6.6zM148 341v-9.2h1v9.2zM149 341v-10.2h1v10.2zM150 341v-137.5h1v137.5zM151 341v-210.0h1v210.0zM152 341v-221.0h1v221.0zM153 341v-174.6h1v174.6zM154 341v-213.2h1v213.2zM155 341v-194.4h1v194.4zM156 341v-199.3h1v199.3zM157 341v-156.0h1v156.0zM158 341v-106.1h1v106.1zM159 341v-71.7h1v71.7zM160 341v-62.9h1v62.9zM161 341v-41.0h1v41.0zM162 341v-43.0h1v43.0zM163 341v-55.0h1v55.0zM164 341v-45.7h1v45.7zM165 341v-26.1h1v26.1zM166 341v-61.0h1v61.0zM167 341v-64.8h1v64.8zM168 341v-79.6h1v79.6zM169 341v-84.7h1v84.7zM170 341v-87.2h1v87.2zM171 341v-91.0h1v91.0zM172 341v-41.8h1v41.8zM173 341v-16.9h1v16.9zM174 341v-14.5h1v14.5zM175 341v-11.0h1v11.0zM188 341v-19.6h1v19.6zM189 341v-31.6h1v31.6zM190 341v-39.0h1v39.0zM191 341v-53.7h1v53.7zM192 341v-63.0h1v63.0zM193 341v-51.7h1v51.7zM194 341v-68.9h1v68.9zM195 341v-70.0h1v70.0zM196 341v-33.9h1v33.9zM197 341v-37.8h1v37.8zM213 341v-12.4h1v12.4zM214 341v-17.0h1v17.0zM215 341v-16.9h1v16.9zM216 341v-16.9h1v16.9zM217 341v-9.4h1v9.4zM218 341v-19.2h1v19.2zM219 341v-83.3h1v83.3zM220 341v-93.5h1v93.5zM221 341v-93.4h1v93.4zM222 341v-94.0h1v94.0zM223 341v-92.2h1v92.2zM224 341v-89.8h1v89.8zM225 341v-35.9h1v35.9zM226 341v-82.3h1v82.3zM227 341v-95.0h1v95.0zM228 341v-106.6h1v106.6zM229 341v-124.3h1v124.3zM230 341v-125.9h1v125.9zM231 341v-133.0h1v133.0zM232 341v-101.3h1v101.3zM233 341v-122.8h1v122.8zM234 341v-90.1h1v90.1zM235 341v-94.7h1v94.7zM236 341v-70.5h1v70.5zM237 341v-40.1h1v40.1zM238 341v-35.8h1v35.8zM239 341v-82.5h1v82.5zM240 341v-121.0h1v121.0zM241 341v-126.0h1v126.0zM242 341v-75.7h1v75.7zM243 341v-112.4h1v112.4zM244 341v-99.2h1v99.2zM245 341v-83.3h1v83.3zM246 341v-81.0h1v81.0zM247 341v-53.4h1v53.4zM248 341v-68.1h1v68.1zM249 341v-48.7h1v48.7zM250 341v-64.1h1v64.1zM251 341v-57.1h1v57.1zM252 341v-38.9h1v38.9zM253 341v-41.1h1v41.1zM254 341v-32.8h1v32.8zM255 341v-24.9h1v24.9zM256 341v-11.6h1v11.6zM261 341v-196.2h1v196.2zM262 341v-236.0h1v236.0zM263 341v-228.4h1v228.4zM264 341v-175.8h1v175.8zM265 341v-156.0h1v156.0zM266 341v-155.6h1v155.6zM267 341v-136.3h1v136.3zM268 341v-127.7h1v127.7zM269 341v-100.3h1v100.3zM270 341v-102.7h1v102.7zM271 341v-75.1h1v75.1zM298 341v-20.8h1v20.8zM299 341v-22.0h1v22.0zM300 341v-17.1h1v17.1zM301 341v-21.6h1v21.6zM302 341v-21.5h1v21.5zM303 341v-21.5h1v21.5zM304 341v-21.1h1v21.1zM305 341v-66.7h1v66.7zM306 341v-88.0h1v88.0zM307 341v-106.4h1v106.4zM308 341v-111.0h1v111.0zM309 341v-100.5h1v100.5zM310 341v-93.8h1v93.8zM311 341v-90.9h1v90.9zM312 341v-88.5h1v88.5zM313 341v-83.5h1v83.5zM314 341v-64.3h1v64.3zM315 341v-41.6h1v41.6zM316 341v-42.9h1v42.9zM317 341v-40.6h1v40.6zM318 341v-29.1h1v29.1zM319 341v-37.0h1v37.0zM320 341v-36.9h1v36.9zM321 341v-37.2h1v37.2zM322 341v-35.8h1v35.8zM323 341v-25.1h1v25.1zM327 341v-31.7h1v31.7zM328 341v-32.4h1v32.4zM329 341v-33.7h1v33.7zM330 341v-26.0h1v26.0zM331 341v-32.1h1v32.1zM332 341v-22.8h1v22.8zM341 341v-13.1h1v13.1zM342 341v-15.0h1v15.0zM343 341v-11.0h1v11.0zM344 341v-14.6h1v14.6zM345 341v-15.0h1v15.0zM349 341v-40.5h1v40.5zM350 341v-47.0h1v47.0zM351 341v-32.1h1v32.1zM352 341v-48.8h1v48.8zM353 341v-41.6h1v41.6zM354 341v-54.1h1v54.1zM355 341v-56.0h1v56.0zM356 341v-51.1h1v51.1zM357 341v-32.0h1v32.0zM358 341v-25.4h1v25.4zM359 341v-48.2h1v48.2zM360 341v-25.9h1v25.9zM361 341v-65.4h1v65.4zM362 341v-62.9h1v62.9zM363 341v-108.8h1v108.8zM364 341v-116.3h1v116.3zM365 341v-126.0h1v126.0zM366 341v-114.3h1v114.3zM367 341v-100.5h1v100.5zM368 341v-93.4h1v93.4zM369 341v-72.5h1v72.5zM370 341v-85.4h1v85.4zM371 341v-44.3h1v44.3zM372 341v-35.8h1v35.8zM373 341v-37.4h1v37.4zM374 341v-34.6h1v34.6zM375 341v-32.3h1v32.3zM376 341v-31.0h1v31.0zM377 341v-21.8h1v21.8zM378 341v-12.2h1v12.2zM379 341v-24.9h1v24.9zM380 341v-24.4h1v24.4zM393 341v-22.6h1v22.6zM394 341v-35.5h1v35.5zM395 341v-27.9h1v27.9zM396 341v-38.5h1v38.5zM397 341v-40.0h1v40.0zM398 341v-38.4h1v38.4zM399 341v-34.1h1v34.1zM400 341v-35.8h1v35.8zM401 341v-33.2h1v33.2zM402 341v-31.1h1v31.1zM403 341v-31.8h1v31.8zM404 341v-29.5h1v29.5zM405 341v-26.8h1v26.8zM406 341v-25.0h1v25.0zM407 341v-15.5h1v15.5zM408 341v-18.1h1v18.1zM409 341v-16.8h1v16.8zM410 341v-17.5h1v17.5zM411 341v-17.5h1v17.5zM412 341v-22.1h1v22.1zM413 341v-45.7h1v45.7zM414 341v-46.5h1v46.5zM415 341v-50.0h1v50.0zM416 341v-52.8h1v52.8zM417 341v-53.0h1v53.0zM418 341v-48.6h1v48.6zM419 341v-79.0h1v79.0zM420 341v-90.9h1v90.9zM421 341v-107.3h1v107.3zM422 341v-95.5h1v95.5zM423 341v-112.6h1v112.6zM424 341v-72.9h1v72.9zM425 341v-109.9h1v109.9zM426 341v-95.5h1v95.5zM427 341v-83.7h1v83.7zM428 341v-34.3h1v34.3zM429 341v-18.4h1v18.4zM450 341v-21.9h1v21.9zM451 341v-26.3h1v26.3zM452 341v-29.2h1v29.2zM453 341v-30.0h1v30.0zM454 341v-25.7h1v25.7zM455 341v-24.0h1v24.0zM460 341v-10.8h1v10.8zM461 341v-13.0h1v13.0zM462 341v-12.6h1v12.6zM463 341v-12.7h1v12.7zM464 341v-9.7h1v9.7zM465 341v-21.4h1v21.4zM466 341v-53.9h1v53.9zM467 341v-31.8h1v31.8zM468 341v-39.0h1v39.0zM469 341v-44.4h1v44.4zM470 341v-22.5h1v22.5zM471 341v-28.8h1v28.8zM472 341v-26.3h1v26.3zM473 341v-17.8h1v17.8zM474 341v-22.0h1v22.0zM475 341v-10.1h1v10.1zM491 341v-10.3h1v10.3zM492 341v-12.6h1v12.6zM493 341v-12.8h1v12.8zM494 341v-9.6h1v9.6zM495 341v-13.0h1v13.0zM496 341v-11.9h1v11.9zM497 341v-6.3h1v6.3zM517 341v-8.0h1v8.0zM518 341v-17.2h1v17.2zM519 341v-21.0h1v21.0zM520 341v-15.3h1v15.3zM521 341v-5.9h1v5.9zM530 341v-5.4h1v5.4zM531 341v-3.2h1v3.2zM532 341v-3.1h1v3.1zM533 341v-5.8h1v5.8zM534 341v-5.8h1v5.8zM535 341v-6.0h1v6.0zM541 341v-31.7h1v31.7zM542 341v-36.7h1v36.7zM543 341v-38.0h1v38.0zM544 341v-36.5h1v36.5zM545 341v-37.9h1v37.9zM546 341v-37.2h1v37.2zM547 341v-36.6h1v36.6zM548 341v-35.9h1v35.9zM549 341v-36.4h1v36.4zM550 341v-38.0h1v38.0zM551 341v-25.6h1v25.6zM552 341v-21.0h1v21.0zM553 341v-8.1h1v8.1zM554 341v-10.6h1v10.6zM555 341v-11.0h1v11.0zM556 341v-32.4h1v32.4zM557 341v-37.6h1v37.6zM558 341v-41.0h1v41.0zM559 341v-38.1h1v38.1zM560 341v-35.1h1v35.1zM561 341v-31.2h1v31.2zM562 341v-28.1h1v28.1zM563 341v-19.1h1v19.1zM564 341v-22.2h1v22.2zM565 341v-17.8h1v17.8zM566 341v-16.5h1v16.5zM567 341v-15.0h1v15.0zM568 341v-9.2h1v9.2zM569 341v-12.2h1v12.2zM570 341v-10.8h1v10.8zM571 341v-9.7h1v9.7zM572 341v-8.9h1v8.9zM573 341v-4.9h1v4.9zM574 341v-5.1h1v5.1zM575 341v-5.8h1v5.8zM579 341v-21.7h1v21.7zM580 341v-25.0h1v25.0zM581 341v-24.9h1v24.9zM582 341v-29.5h1v29.5zM583 341v-26.4h1v26.4zM584 341v-48.7h1v48.7zM585 341v-44.5h1v44.5zM586 341v-53.9h1v53.9zM587 341v-46.2h1v46.2zM588 341v-40.7h1v40.7zM589 341v-34.5h1v34.5zM590 341v-30.1h1v30.1zM591 341v-25.4h1v25.4zM592 341v-14.7h1v14.7zM607 341v-15.0h1v15.0zM608 341v-8.2h1v8.2zM609 341v-7.6h1v7.6zM610 341v-14.9h1v14.9zM611 341v-7.6h1v7.6zM612 341v-18.9h1v18.9zM613 341v-29.1h1v29.1zM614 341v-39.7h1v39.7zM615 341v-50.3h1v50.3zM616 341v-60.1h1v60.1zM617 341v-62.0h1v62.0zM618 341v-61.7h1v61.7zM619 341v-62.2h1v62.2zM620 341v-46.1h1v46.1zM621 341v-33.8h1v33.8zM622 341v-35.3h1v35.3zM623 341v-24.2h1v24.2zM624 341v-17.7h1v17.7zM625 341v-14.1h1v14.1zM626 341v-10.7h1v10.7zM627 341v-8.3h1v8.3zM628 341v-4.7h1v4.7zM672 341v-10.9h1v10.9zM673 341v-10.8h1v10.8zM674 341v-8.4h1v8.4zM675 341v-7.3h1v7.3zM676 341v-10.9h1v10.9zM677 341v-8.0h1v8.0zM678 341v-11.0h1v11.0zM679 341v-10.9h1v10.9zM680 341v-7.9h1v7.9zM681 341v-6.4h1v6.4zM684 341v-18.5h1v18.5zM685 341v-24.8h1v24.8zM686 341v-26.7h1v26.7zM687 341v-38.3h1v38.3zM688 341v-35.9h1v35.9zM689 341v-50.5h1v50.5zM690 341v-52.4h1v52.4zM691 341v-57.0h1v57.0zM692 341v-53.5h1v53.5zM693 341v-50.1h1v50.1zM694 341v-44.6h1v44.6zM695 341v-34.0h1v34.0zM696 341v-39.2h1v39.2zM697 341v-39.4h1v39.4zM698 341v-31.6h1v31.6zM699 341v-24.4h1v24.4zM715 341v-4.9h1v4.9zM716 341v-11.0h1v11.0zM717 341v-4.4h1v4.4zM719 341v-4.5h1v4.5zM720 341v-11.0h1v11.0zM721 341v-5.6h1v5.6zM740 341v-18.5h1v18.5zM741 341v-27.7h1v27.7zM742 341v-35.1h1v35.1zM743 341v-40.0h1v40.0zM744 341v-35.3h1v35.3zM745 341v-29.4h1v29.4zM746 341v-15.6h1v15.6zM750 341v-12.4h1v12.4zM751 341v-23.4h1v23.4zM752 341v-27.5h1v27.5zM753 341v-48.6h1v48.6zM754 341v-51.0h1v51.0zM755 341v-47.6h1v47.6zM756 341v-46.0h1v46.0zM757 341v-37.8h1v37.8zM758 341v-40.1h1v40.1zM759 341v-36.9h1v36.9zM760 341v-33.6h1v33.6zM761 341v-49.9h1v49.9zM762 341v-34.9h1v34.9zM763 341v-46.8h1v46.8zM764 341v-46.0h1v46.0zM765 341v-40.8h1v40.8zM766 341v-36.8h1v36.8zM767 341v-32.9h1v32.9zM768 341v-30.6h1v30.6zM769 341v-30.0h1v30.0zM804 341v-43.7h1v43.7zM805 341v-59.4h1v59.4zM806 341v-71.0h1v71.0zM807 341v-65.9h1v65.9zM808 341v-60.8h1v60.8zM809 341v-49.8h1v49.8zM810 341v-40.6h1v40.6zM811 341v-39.7h1v39.7zM812 341v-41.0h1v41.0zM813 341v-37.9h1v37.9zM814 341v-33.9h1v33.9zM815 341v-23.1h1v23.1zM816 341v-34.4h1v34.4zM817 341v-51.0h1v51.0zM818 341v-36.5h1v36.5zM819 341v-25.6h1v25.6zM820 341v-22.8h1v22.8zM821 341v-13.8h1v13.8zM822 341v-14.3h1v14.3zM823 341v-14.3h1v14.3zM824 341v-16.9h1v16.9zM825 341v-24.1h1v24.1zM826 341v-21.5h1v21.5zM827 341v-31.0h1v31.0zM828 341v-27.7h1v27.7zM829 341v-24.2h1v24.2zM830 341v-12.3h1v12.3zM831 341v-17.2h1v17.2zM832 341v-9.5h1v9.5zM833 341v-31.5h1v31.5zM834 341v-58.0h1v58.0zM835 341v-54.2h1v54.2zM836 341v-49.7h1v49.7zM837 341v-44.1h1v44.1zM838 341v-45.6h1v45.6zM839 341v-49.0h1v49.0zM840 341v-51.0h1v51.0zM841 341v-33.6h1v33.6zM842 341v-16.6h1v16.6zM843 341v-4.9h1v4.9zM846 341v-8.7h1v8.7zM847 341v-16.0h1v16.0zM848 341v-18.5h1v18.5zM849 341v-15.4h1v15.4zM850 341v-11.4h1v11.4zM851 341v-4.8h1v4.8zM859 341v-29.3h1v29.3zM860 341v-30.7h1v30.7zM861 341v-32.1h1v32.1zM862 341v-35.6h1v35.6zM863 341v-27.2h1v27.2zM864 341v-38.4h1v38.4zM865 341v-36.1h1v36.1zM866 341v-52.5h1v52.5zM867 341v-59.8h1v59.8zM868 341v-64.4h1v64.4zM869 341v-69.7h1v69.7zM870 341v-75.1h1v75.1zM871 341v-86.1h1v86.1zM872 341v-91.0h1v91.0zM873 341v-50.5h1v50.5zM874 341v-80.8h1v80.8zM875 341v-68.0h1v68.0zM876 341v-52.7h1v52.7zM877 341v-47.5h1v47.5zM878 341v-42.3h1v42.3zM879 341v-36.0h1v36.0zM880 341v-28.9h1v28.9zM881 341v-24.5h1v24.5zM882 341v-20.8h1v20.8zM883 341v-9.2h1v9.2zM896 341v-9.7h1v9.7zM897 341v-15.2h1v15.2zM898 341v-20.5h1v20.5zM899 341v-21.0h1v21.0zM900 341v-16.9h1v16.9zM901 341v-12.9h1v12.9zM902 341v-4.2h1v4.2zM920 341v-21.5h1v21.5zM921 341v-15.7h1v15.7zM922 341v-26.6h1v26.6zM923 341v-20.5h1v20.5zM924 341v-15.8h1v15.8zM925 341v-26.4h1v26.4zM926 341v-25.8h1v25.8zM927 341v-22.6h1v22.6zM928 341v-19.2h1v19.2zM929 341v-15.3h1v15.3zM930 341v-15.9h1v15.9zM931 341v-19.0h1v19.0zM932 341v-14.6h1v14.6zM933 341v-16.2h1v16.2zM934 341v-16.5h1v16.5zM935 341v-52.3h1v52.3zM936 341v-68.7h1v68.7zM937 341v-71.0h1v71.0zM938 341v-59.7h1v59.7zM939 341v-41.9h1v41.9zM940 341v-31.3h1v31.3zM941 341v-20.9h1v20.9zM942 341v-3.7h1v3.7zM943 341v-4.0h1v4.0zM944 341v-5.8h1v5.8zM945 341v-5.2h1v5.2zM946 341v-5.8h1v5.8zM947 341v-4.7h1v4.7zM956 341v-2.5h1v2.5zM957 341v-5.6h1v5.6zM958 341v-6.0h1v6.0zM962 341v-11.0h1v11.0z" fill="#604cf6"/>
<path d="M87 341v7.5h1v-7.5zM88 341v7.8h1v-7.8zM89 341v7.7h1v-7.7zM117 341v5.0h1v-5.0zM118 341v4.0h1v-4.0zM119 341v4.9h1v-4.9zM121 341v49.1h1v-49.1zM122 341v66.0h1v-66.0zM123 341v71.4h1v-71.4zM124 341v71.2h1v-71.2zM125 341v76.9h1v-76.9zM126 341v81.1h1v-81.1zM127 341v91.9h1v-91.9zM128 341v95.2h1v-95.2zM129 341v95.9h1v-95.9zM130 341v107.6h1v-107.6zM131 341v102.9h1v-102.9zM132 341v109.2h1v-109.2zM133 341v117.5h1v-117.5zM134 341v145.8h1v-145.8zM135 341v147.0h1v-147.0zM136 341v147.3h1v-147.3zM137 341v163.0h1v-163.0zM138 341v148.2h1v-148.2zM139 341v143.6h1v-143.6zM140 341v138.3h1v-138.3zM141 341v86.9h1v-86.9zM142 341v75.6h1v-75.6zM143 341v56.0h1v-56.0zM144 341v16.4h1v-16.4zM145 341v7.4h1v-7.4zM146 341v9.6h1v-9.6zM147 341v10.0h1v-10.0zM174 341v17.6h1v-17.6zM175 341v13.7h1v-13.7zM176 341v27.1h1v-27.1zM177 341v30.2h1v-30.2zM178 341v30.0h1v-30.0zM179 341v33.9h1v-33.9zM180 341v36.4h1v-36.4zM181 341v36.5h1v-36.5zM182 341v36.7h1v-36.7zM183 341v39.7h1v-39.7zM184 341v49.1h1v-49.1zM185 341v40.2h1v-40.2zM186 341v41.7h1v-41.7zM187 341v59.0h1v-59.0zM188 341v36.7h1v-36.7zM189 341v27.9h1v-27.9zM195 341v35.1h1v-35.1zM196 341v46.4h1v-46.4zM197 341v54.0h1v-54.0zM198 341v31.9h1v-31.9zM199 341v27.9h1v-27.9zM200 341v36.2h1v-36.2zM201 341v49.6h1v-49.6zM202 341v60.8h1v-60.8zM203 341v68.6h1v-68.6zM204 341v77.0h1v-77.0zM205 341v63.4h1v-63.4zM206 341v56.8h1v-56.8zM207 341v67.0h1v-67.0zM208 341v67.9h1v-67.9zM209 341v81.0h1v-81.0zM210 341v74.1h1v-74.1zM211 341v81.0h1v-81.0zM212 341v77.6h1v-77.6zM213 341v81.0h1v-81.0zM244 341v51.2h1v-51.2zM245 341v80.5h1v-80.5zM246 341v88.5h1v-88.5zM247 341v94.1h1v-94.1zM248 341v101.0h1v-101.0zM249 341v86.7h1v-86.7zM250 341v43.2h1v-43.2zM251 341v47.4h1v-47.4zM252 341v42.0h1v-42.0zM253 341v39.1h1v-39.1zM254 341v3.9h1v-3.9zM255 341v6.9h1v-6.9zM256 341v7.4h1v-7.4zM257 341v7.4h1v-7.4zM258 341v7.2h1v-7.2zM273 341v13.5h1v-13.5zM274 341v17.6h1v-17.6zM275 341v29.0h1v-29.0zM276 341v24.9h1v-24.9zM277 341v21.4h1v-21.4zM278 341v23.8h1v-23.8zM279 341v21.2h1v-21.2zM280 341v16.9h1v-16.9zM281 341v20.7h1v-20.7zM282 341v22.3h1v-22.3zM283 341v22.1h1v-22.1zM284 341v24.2h1v-24.2zM285 341v26.6h1v-26.6zM286 341v27.0h1v-27.0zM287 341v18.1h1v-18.1zM288 341v13.0h1v-13.0zM289 341v9.6h1v-9.6zM290 341v5.5h1v-5.5zM291 341v7.8h1v-7.8zM292 341v9.2h1v-9.2zM293 341v5.0h1v-5.0zM294 341v7.8h1v-7.8zM295 341v8.4h1v-8.4zM296 341v9.6h1v-9.6zM297 341v26.1h1v-26.1zM298 341v27.0h1v-27.0zM323 341v17.7h1v-17.7zM324 341v13.1h1v-13.1zM325 341v24.0h1v-24.0zM326 341v10.6h1v-10.6zM331 341v15.7h1v-15.7zM332 341v35.5h1v-35.5zM333 341v47.0h1v-47.0zM334 341v45.9h1v-45.9zM335 341v40.5h1v-40.5zM336 341v32.4h1v-32.4zM337 341v22.9h1v-22.9zM338 341v13.1h1v-13.1zM339 341v15.2h1v-15.2zM340 341v13.4h1v-13.4zM341 341v12.1h1v-12.1zM342 341v8.0h1v-8.0zM344 341v24.0h1v-24.0zM345 341v35.5h1v-35.5zM346 341v46.7h1v-46.7zM347 341v50.0h1v-50.0zM348 341v40.0h1v-40.0zM349 341v45.6h1v-45.6zM350 341v28.4h1v-28.4zM379 341v5.8h1v-5.8zM380 341v17.0h1v-17.0zM381 341v15.8h1v-15.8zM382 341v17.0h1v-17.0zM385 341v9.0h1v-9.0zM386 341v14.2h1v-14.2zM387 341v15.5h1v-15.5zM388 341v16.0h1v-16.0zM389 341v14.4h1v-14.4zM390 341v9.4h1v-9.4zM391 341v15.2h1v-15.2zM429 341v15.9h1v-15.9zM430 341v47.8h1v-47.8zM431 341v86.7h1v-86.7zM432 341v91.0h1v-91.0zM433 341v80.9h1v-80.9zM434 341v77.6h1v-77.6zM435 341v76.4h1v-76.4zM436 341v69.3h1v-69.3zM437 341v77.8h1v-77.8zM438 341v79.0h1v-79.0zM439 341v76.9h1v-76.9zM440 341v71.0h1v-71.0zM441 341v66.9h1v-66.9zM442 341v59.0h1v-59.0zM443 341v54.3h1v-54.3zM444 341v47.9h1v-47.9zM445 341v35.6h1v-35.6zM446 341v24.4h1v-24.4zM447 341v19.7h1v-19.7zM448 341v14.3h1v-14.3zM449 341v12.4h1v-12.4zM450 341v34.0h1v-34.0zM456 341v18.4h1v-18.4zM457 341v23.0h1v-23.0zM458 341v18.7h1v-18.7zM459 341v16.2h1v-16.2zM460 341v23.0h1v-23.0zM461 341v1.6h1v-1.6zM462 341v3.4h1v-3.4zM463 341v4.2h1v-4.2zM464 341v6.9h1v-6.9zM465 341v6.4h1v-6.4zM466 341v4.0h1v-4.0zM467 341v7.7h1v-7.7zM468 341v1.3h1v-1.3zM469 341v5.0h1v-5.0zM470 341v17.0h1v-17.0zM471 341v3.6h1v-3.6zM472 341v2.7h1v-2.7zM473 341v4.9h1v-4.9zM474 341v6.9h1v-6.9zM475 341v5.6h1v-5.6zM476 341v26.0h1v-26.0zM477 341v34.1h1v-34.1zM478 341v47.1h1v-47.1zM479 341v77.0h1v-77.0zM480 341v44.9h1v-44.9zM481 341v42.8h1v-42.8zM482 341v40.7h1v-40.7zM483 341v59.8h1v-59.8zM484 341v67.9h1v-67.9zM485 341v82.0h1v-82.0zM486 341v51.6h1v-51.6zM487 341v61.3h1v-61.3zM488 341v46.3h1v-46.3zM489 341v44.7h1v-44.7zM490 341v40.8h1v-40.8zM491 341v75.0h1v-75.0zM492 341v29.1h1v-29.1zM493 341v24.2h1v-24.2zM494 341v33.7h1v-33.7zM495 341v33.4h1v-33.4zM496 341v35.4h1v-35.4zM497 341v40.6h1v-40.6zM498 341v45.0h1v-45.0zM499 341v33.0h1v-33.0zM500 341v51.1h1v-51.1zM501 341v59.0h1v-59.0zM502 341v44.8h1v-44.8zM503 341v53.1h1v-53.1zM504 341v60.9h1v-60.9zM505 341v65.7h1v-65.7zM506 341v66.5h1v-66.5zM507 341v70.0h1v-70.0zM508 341v74.0h1v-74.0zM509 341v64.8h1v-64.8zM510 341v67.9h1v-67.9zM511 341v67.5h1v-67.5zM512 341v60.9h1v-60.9zM513 341v67.1h1v-67.1zM514 341v65.2h1v-65.2zM515 341v60.4h1v-60.4zM516 341v54.1h1v-54.1zM517 341v50.8h1v-50.8zM518 341v44.5h1v-44.5zM520 341v18.2h1v-18.2zM521 341v40.5h1v-40.5zM522 341v17.0h1v-17.0zM523 341v17.4h1v-17.4zM524 341v45.0h1v-45.0zM525 341v43.8h1v-43.8zM526 341v41.2h1v-41.2zM527 341v20.6h1v-20.6zM528 341v45.0h1v-45.0zM529 341v40.5h1v-40.5zM530 341v38.1h1v-38.1zM531 341v38.4h1v-38.4zM534 341v44.0h1v-44.0zM535 341v6.0h1v-6.0zM536 341v7.6h1v-7.6zM537 341v44.0h1v-44.0zM551 341v6.7h1v-6.7zM565 341v1.5h1v-1.5zM566 341v2.0h1v-2.0zM571 341v12.7h1v-12.7zM572 341v13.8h1v-13.8zM573 341v14.0h1v-14.0zM574 341v33.9h1v-33.9zM575 341v39.8h1v-39.8zM576 341v42.0h1v-42.0zM577 341v35.7h1v-35.7zM578 341v14.4h1v-14.4zM579 341v21.9h1v-21.9zM580 341v18.7h1v-18.7zM589 341v38.3h1v-38.3zM590 341v47.0h1v-47.0zM591 341v61.8h1v-61.8zM592 341v62.8h1v-62.8zM593 341v70.3h1v-70.3zM594 341v79.5h1v-79.5zM595 341v77.4h1v-77.4zM596 341v88.2h1v-88.2zM597 341v79.4h1v-79.4zM598 341v89.0h1v-89.0zM599 341v82.1h1v-82.1zM600 341v94.4h1v-94.4zM601 341v89.7h1v-89.7zM602 341v102.0h1v-102.0zM603 341v94.1h1v-94.1zM604 341v93.1h1v-93.1zM605 341v88.9h1v-88.9zM606 341v93.0h1v-93.0zM607 341v49.8h1v-49.8zM627 341v7.7h1v-7.7zM628 341v22.0h1v-22.0zM629 341v15.5h1v-15.5zM630 341v29.0h1v-29.0zM631 341v14.3h1v-14.3zM632 341v28.2h1v-28.2zM633 341v27.2h1v-27.2zM634 341v43.2h1v-43.2zM635 341v47.3h1v-47.3zM636 341v52.3h1v-52.3zM637 341v47.1h1v-47.1zM638 341v62.0h1v-62.0zM639 341v53.0h1v-53.0zM640 341v54.0h1v-54.0zM641 341v53.2h1v-53.2zM642 341v46.2h1v-46.2zM643 341v62.0h1v-62.0zM644 341v40.7h1v-40.7zM645 341v15.7h1v-15.7zM646 341v12.8h1v-12.8zM647 341v14.8h1v-14.8zM648 341v27.5h1v-27.5zM649 341v20.8h1v-20.8zM650 341v28.4h1v-28.4zM651 341v32.0h1v-32.0zM652 341v60.8h1v-60.8zM653 341v70.0h1v-70.0zM654 341v60.4h1v-60.4zM655 341v60.9h1v-60.9zM656 341v59.7h1v-59.7zM657 341v60.8h1v-60.8zM658 341v65.5h1v-65.5zM659 341v58.5h1v-58.5zM660 341v60.1h1v-60.1zM661 341v69.0h1v-69.0zM662 341v56.4h1v-56.4zM663 341v49.2h1v-49.2zM664 341v28.4h1v-28.4zM665 341v32.4h1v-32.4zM666 341v44.1h1v-44.1zM667 341v45.6h1v-45.6zM668 341v50.0h1v-50.0zM669 341v31.9h1v-31.9zM670 341v23.7h1v-23.7zM671 341v23.8h1v-23.8zM672 341v23.0h1v-23.0zM680 341v23.0h1v-23.0zM681 341v31.9h1v-31.9zM682 341v34.3h1v-34.3zM683 341v39.0h1v-39.0zM684 341v20.0h1v-20.0zM685 341v27.7h1v-27.7zM698 341v14.0h1v-14.0zM699 341v32.1h1v-32.1zM700 341v42.7h1v-42.7zM701 341v47.3h1v-47.3zM702 341v44.7h1v-44.7zM703 341v51.6h1v-51.6zM704 341v59.0h1v-59.0zM705 341v52.4h1v-52.4zM706 341v53.0h1v-53.0zM707 341v51.0h1v-51.0zM708 341v56.4h1v-56.4zM709 341v58.1h1v-58.1zM710 341v65.0h1v-65.0zM711 341v59.3h1v-59.3zM712 341v58.0h1v-58.0zM713 341v58.6h1v-58.6zM714 341v53.4h1v-53.4zM715 341v42.3h1v-42.3zM723 341v34.7h1v-34.7zM724 341v22.8h1v-22.8zM725 341v37.0h1v-37.0zM726 341v31.0h1v-31.0zM727 341v28.7h1v-28.7zM728 341v27.2h1v-27.2zM729 341v30.9h1v-30.9zM730 341v39.2h1v-39.2zM731 341v41.0h1v-41.0zM732 341v32.6h1v-32.6zM733 341v35.3h1v-35.3zM734 341v32.9h1v-32.9zM735 341v26.4h1v-26.4zM736 341v24.2h1v-24.2zM737 341v24.5h1v-24.5zM738 341v29.3h1v-29.3zM739 341v28.6h1v-28.6zM740 341v26.2h1v-26.2zM741 341v14.4h1v-14.4zM749 341v3.2h1v-3.2zM750 341v4.0h1v-4.0zM769 341v26.1h1v-26.1zM770 341v34.1h1v-34.1zM771 341v35.0h1v-35.0zM772 341v29.8h1v-29.8zM773 341v24.5h1v-24.5zM774 341v20.3h1v-20.3zM775 341v2.4h1v-2.4zM776 341v2.2h1v-2.2zM777 341v1.6h1v-1.6zM778 341v1.1h1v-1.1zM779 341v7.2h1v-7.2zM780 341v7.8h1v-7.8zM781 341v5.0h1v-5.0zM784 341v30.5h1v-30.5zM785 341v32.6h1v-32.6zM786 341v37.5h1v-37.5zM787 341v37.1h1v-37.1zM788 341v42.5h1v-42.5zM789 341v57.7h1v-57.7zM790 341v68.5h1v-68.5zM791 341v44.6h1v-44.6zM792 341v41.8h1v-41.8zM793 341v43.0h1v-43.0zM794 341v43.6h1v-43.6zM795 341v47.0h1v-47.0zM796 341v44.4h1v-44.4zM797 341v41.9h1v-41.9zM798 341v41.1h1v-41.1zM799 341v45.5h1v-45.5zM800 341v69.5h1v-69.5zM801 341v63.5h1v-63.5zM802 341v50.7h1v-50.7zM803 341v44.2h1v-44.2zM804 341v39.5h1v-39.5zM844 341v13.7h1v-13.7zM845 341v11.0h1v-11.0zM846 341v13.7h1v-13.7zM849 341v31.0h1v-31.0zM850 341v30.4h1v-30.4zM851 341v18.5h1v-18.5zM852 341v31.0h1v-31.0zM853 341v9.3h1v-9.3zM854 341v15.2h1v-15.2zM855 341v40.6h1v-40.6zM856 341v29.7h1v-29.7zM857 341v40.2h1v-40.2zM858 341v40.6h1v-40.6zM863 341v7.8h1v-7.8zM882 341v16.9h1v-16.9zM883 341v20.6h1v-20.6zM884 341v32.4h1v-32.4zM885 341v29.1h1v-29.1zM886 341v46.2h1v-46.2zM887 341v40.6h1v-40.6zM888 341v44.6h1v-44.6zM889 341v62.0h1v-62.0zM890 341v55.5h1v-55.5zM891 341v39.2h1v-39.2zM892 341v35.6h1v-35.6zM893 341v33.8h1v-33.8zM894 341v35.8h1v-35.8zM895 341v29.8h1v-29.8zM896 341v31.0h1v-31.0zM897 341v17.0h1v-17.0zM898 341v1.5h1v-1.5zM899 341v15.4h1v-15.4zM900 341v17.0h1v-17.0zM902 341v45.7h1v-45.7zM903 341v83.8h1v-83.8zM904 341v85.7h1v-85.7zM905 341v54.4h1v-54.4zM906 341v56.4h1v-56.4zM907 341v49.5h1v-49.5zM908 341v47.4h1v-47.4zM909 341v42.5h1v-42.5zM910 341v46.1h1v-46.1zM911 341v46.4h1v-46.4zM912 341v60.0h1v-60.0zM913 341v47.0h1v-47.0zM914 341v39.9h1v-39.9zM915 341v44.9h1v-44.9zM916 341v42.2h1v-42.2zM917 341v32.3h1v-32.3zM918 341v33.0h1v-33.0zM928 341v2.3h1v-2.3zM929 341v10.5h1v-10.5zM947 341v21.0h1v-21.0zM948 341v11.3h1v-11.3zM949 341v15.6h1v-15.6zM950 341v14.7h1v-14.7zM951 341v17.6h1v-17.6zM952 341v31.1h1v-31.1zM953 341v33.1h1v-33.1zM954 341v36.0h1v-36.0zM955 341v34.2h1v-34.2zM956 341v32.5h1v-32.5zM957 341v20.7h1v-20.7zM958 341v16.5h1v-16.5zM959 341v42.8h1v-42.8zM960 341v24.0h1v-24.0zM961 341v48.6h1v-48.6zM962 341v50.0h1v-50.0zM963 341v93.8h1v-93.8zM964 341v125.0h1v-125.0zM965 341v125.0h1v-125.0z" fill="#ec950b"/>
<path d="M87 341v3.9h1v-3.9zM88 341v3.9h1v-3.9zM89 341v4.0h1v-4.0zM117 341v2.0h1v-2.0zM118 341v1.9h1v-1.9zM119 341v2.0h1v-2.0zM121 341v43.6h1v-43.6zM122 341v51.9h1v-51.9zM123 341v66.4h1v-66.4zM124 341v70.3h1v-70.3zM125 341v74.9h1v-74.9zM126 341v76.7h1v-76.7zM127 341v86.7h1v-86.7zM128 341v88.8h1v-88.8zM129 341v93.4h1v-93.4zM130 341v98.8h1v-98.8zM131 341v98.3h1v-98.3zM132 341v103.7h1v-103.7zM133 341v113.6h1v-113.6zM134 341v141.6h1v-141.6zM135 341v145.7h1v-145.7zM136 341v144.4h1v-144.4zM137 341v151.0h1v-151.0zM138 341v145.7h1v-145.7zM139 341v128.0h1v-128.0zM140 341v136.9h1v-136.9zM141 341v57.8h1v-57.8zM142 341v57.7h1v-57.7zM143 341v35.8h1v-35.8zM144 341v14.5h1v-14.5zM145 341v6.1h1v-6.1zM146 341v3.9h1v-3.9zM147 341v4.0h1v-4.0zM174 341v8.0h1v-8.0zM175 341v10.5h1v-10.5zM176 341v13.7h1v-13.7zM177 341v21.1h1v-21.1zM178 341v27.0h1v-27.0zM179 341v31.2h1v-31.2zM180 341v33.2h1v-33.2zM181 341v20.3h1v-20.3zM182 341v34.7h1v-34.7zM183 341v21.0h1v-21.0zM184 341v34.9h1v-34.9zM185 341v36.0h1v-36.0zM186 341v28.9h1v-28.9zM187 341v39.0h1v-39.0zM188 341v21.6h1v-21.6zM189 341v24.5h1v-24.5zM195 341v13.0h1v-13.0zM196 341v20.9h1v-20.9zM197 341v39.0h1v-39.0zM198 341v21.0h1v-21.0zM199 341v26.6h1v-26.6zM200 341v27.3h1v-27.3zM201 341v35.5h1v-35.5zM202 341v57.1h1v-57.1zM203 341v66.3h1v-66.3zM204 341v51.6h1v-51.6zM205 341v58.9h1v-58.9zM206 341v37.9h1v-37.9zM207 341v59.0h1v-59.0zM208 341v49.8h1v-49.8zM209 341v69.4h1v-69.4zM210 341v72.1h1v-72.1zM211 341v74.0h1v-74.0zM212 341v72.8h1v-72.8zM213 341v46.0h1v-46.0zM244 341v37.3h1v-37.3zM245 341v56.0h1v-56.0zM246 341v84.5h1v-84.5zM247 341v89.8h1v-89.8zM248 341v93.0h1v-93.0zM249 341v82.8h1v-82.8zM250 341v41.7h1v-41.7zM251 341v18.5h1v-18.5zM252 341v40.6h1v-40.6zM253 341v23.4h1v-23.4zM254 341v1.1h1v-1.1zM255 341v2.0h1v-2.0zM256 341v1.9h1v-1.9zM257 341v1.9h1v-1.9zM258 341v1.7h1v-1.7zM273 341v11.2h1v-11.2zM274 341v16.0h1v-16.0zM275 341v19.0h1v-19.0zM276 341v13.0h1v-13.0zM277 341v11.1h1v-11.1zM278 341v11.5h1v-11.5zM279 341v15.2h1v-15.2zM280 341v15.8h1v-15.8zM281 341v12.8h1v-12.8zM282 341v19.4h1v-19.4zM283 341v10.7h1v-10.7zM284 341v20.3h1v-20.3zM285 341v19.2h1v-19.2zM286 341v19.0h1v-19.0zM287 341v12.4h1v-12.4zM288 341v5.1h1v-5.1zM289 341v4.7h1v-4.7zM290 341v1.4h1v-1.4zM291 341v2.1h1v-2.1zM292 341v2.7h1v-2.7zM293 341v1.7h1v-1.7zM294 341v2.6h1v-2.6zM295 341v5.5h1v-5.5zM296 341v7.2h1v-7.2zM297 341v8.7h1v-8.7zM298 341v9.0h1v-9.0zM323 341v5.8h1v-5.8zM324 341v4.3h1v-4.3zM325 341v9.0h1v-9.0zM326 341v5.9h1v-5.9zM331 341v8.0h1v-8.0zM332 341v29.6h1v-29.6zM333 341v25.8h1v-25.8zM334 341v43.8h1v-43.8zM335 341v40.5h1v-40.5zM336 341v19.2h1v-19.2zM337 341v16.5h1v-16.5zM338 341v12.0h1v-12.0zM339 341v10.1h1v-10.1zM340 341v8.7h1v-8.7zM341 341v5.7h1v-5.7zM342 341v2.6h1v-2.6zM344 341v16.8h1v-16.8zM345 341v30.3h1v-30.3zM346 341v43.2h1v-43.2zM347 341v44.0h1v-44.0zM348 341v37.5h1v-37.5zM349 341v38.0h1v-38.0zM350 341v18.7h1v-18.7zM379 341v3.6h1v-3.6zM380 341v4.0h1v-4.0zM381 341v3.9h1v-3.9zM382 341v4.0h1v-4.0zM385 341v2.9h1v-2.9zM386 341v2.0h1v-2.0zM387 341v3.4h1v-3.4zM388 341v1.8h1v-1.8zM389 341v2.9h1v-2.9zM390 341v4.0h1v-4.0zM391 341v3.9h1v-3.9zM429 341v12.5h1v-12.5zM430 341v44.2h1v-44.2zM431 341v76.1h1v-76.1zM432 341v80.0h1v-80.0zM433 341v73.9h1v-73.9zM434 341v71.6h1v-71.6zM435 341v71.2h1v-71.2zM436 341v69.3h1v-69.3zM437 341v72.4h1v-72.4zM438 341v75.0h1v-75.0zM439 341v72.5h1v-72.5zM440 341v66.8h1v-66.8zM441 341v63.8h1v-63.8zM442 341v55.3h1v-55.3zM443 341v50.1h1v-50.1zM444 341v44.3h1v-44.3zM445 341v33.3h1v-33.3zM446 341v23.0h1v-23.0zM447 341v14.2h1v-14.2zM448 341v8.8h1v-8.8zM449 341v5.2h1v-5.2zM450 341v9.0h1v-9.0zM456 341v12.5h1v-12.5zM457 341v14.0h1v-14.0zM458 341v7.8h1v-7.8zM459 341v13.5h1v-13.5zM460 341v14.0h1v-14.0zM476 341v21.4h1v-21.4zM477 341v17.4h1v-17.4zM478 341v25.2h1v-25.2zM479 341v35.7h1v-35.7zM480 341v40.4h1v-40.4zM481 341v40.2h1v-40.2zM482 341v35.8h1v-35.8zM483 341v45.7h1v-45.7zM484 341v43.2h1v-43.2zM485 341v41.3h1v-41.3zM486 341v47.6h1v-47.6zM487 341v48.6h1v-48.6zM488 341v32.3h1v-32.3zM489 341v38.8h1v-38.8zM490 341v36.7h1v-36.7zM491 341v36.0h1v-36.0zM492 341v24.5h1v-24.5zM493 341v19.4h1v-19.4zM494 341v28.1h1v-28.1zM495 341v23.2h1v-23.2zM496 341v31.7h1v-31.7zM497 341v32.7h1v-32.7zM498 341v24.0h1v-24.0zM499 341v14.5h1v-14.5zM500 341v15.7h1v-15.7zM501 341v34.6h1v-34.6zM502 341v22.3h1v-22.3zM503 341v53.1h1v-53.1zM504 341v43.2h1v-43.2zM505 341v32.8h1v-32.8zM506 341v33.3h1v-33.3zM507 341v38.4h1v-38.4zM508 341v67.0h1v-67.0zM509 341v37.7h1v-37.7zM510 341v54.9h1v-54.9zM511 341v41.4h1v-41.4zM512 341v34.1h1v-34.1zM513 341v63.1h1v-63.1zM514 341v61.7h1v-61.7zM515 341v57.7h1v-57.7zM516 341v51.8h1v-51.8zM517 341v46.9h1v-46.9zM518 341v39.2h1v-39.2zM520 341v13.9h1v-13.9zM521 341v13.7h1v-13.7zM522 341v15.7h1v-15.7zM523 341v15.5h1v-15.5zM524 341v16.0h1v-16.0zM525 341v8.6h1v-8.6zM526 341v14.3h1v-14.3zM527 341v15.4h1v-15.4zM528 341v16.0h1v-16.0zM529 341v15.9h1v-15.9zM530 341v15.9h1v-15.9zM531 341v13.7h1v-13.7zM534 341v2.7h1v-2.7zM535 341v2.8h1v-2.8zM536 341v4.0h1v-4.0zM537 341v4.0h1v-4.0zM571 341v7.8h1v-7.8zM572 341v10.6h1v-10.6zM573 341v9.6h1v-9.6zM574 341v10.5h1v-10.5zM575 341v10.8h1v-10.8zM576 341v11.0h1v-11.0zM577 341v11.0h1v-11.0zM578 341v10.6h1v-10.6zM579 341v10.1h1v-10.1zM580 341v6.8h1v-6.8zM589 341v23.7h1v-23.7zM590 341v45.0h1v-45.0zM591 341v57.0h1v-57.0zM592 341v62.8h1v-62.8zM593 341v68.9h1v-68.9zM594 341v60.2h1v-60.2zM595 341v75.2h1v-75.2zM596 341v69.3h1v-69.3zM597 341v77.6h1v-77.6zM598 341v89.0h1v-89.0zM599 341v76.2h1v-76.2zM600 341v89.9h1v-89.9zM601 341v75.3h1v-75.3zM602 341v72.2h1v-72.2zM603 341v91.7h1v-91.7zM604 341v69.1h1v-69.1zM605 341v66.0h1v-66.0zM606 341v79.0h1v-79.0zM607 341v33.7h1v-33.7zM627 341v5.6h1v-5.6zM628 341v9.6h1v-9.6zM629 341v7.7h1v-7.7zM630 341v14.0h1v-14.0zM631 341v7.3h1v-7.3zM632 341v10.3h1v-10.3zM633 341v14.2h1v-14.2zM634 341v35.0h1v-35.0zM635 341v45.0h1v-45.0zM636 341v48.6h1v-48.6zM637 341v21.9h1v-21.9zM638 341v54.0h1v-54.0zM639 341v50.5h1v-50.5zM640 341v50.4h1v-50.4zM641 341v48.2h1v-48.2zM642 341v37.6h1v-37.6zM643 341v34.7h1v-34.7zM644 341v19.3h1v-19.3zM645 341v13.6h1v-13.6zM646 341v11.3h1v-11.3zM647 341v9.1h1v-9.1zM648 341v12.7h1v-12.7zM649 341v15.3h1v-15.3zM650 341v15.6h1v-15.6zM651 341v30.0h1v-30.0zM652 341v57.1h1v-57.1zM653 341v59.0h1v-59.0zM654 341v57.1h1v-57.1zM655 341v54.7h1v-54.7zM656 341v55.7h1v-55.7zM657 341v56.4h1v-56.4zM658 341v54.1h1v-54.1zM659 341v42.8h1v-42.8zM660 341v55.9h1v-55.9zM661 341v54.0h1v-54.0zM662 341v42.2h1v-42.2zM663 341v22.9h1v-22.9zM664 341v21.4h1v-21.4zM665 341v27.0h1v-27.0zM666 341v29.4h1v-29.4zM667 341v33.7h1v-33.7zM668 341v34.0h1v-34.0zM669 341v19.9h1v-19.9zM670 341v13.6h1v-13.6zM671 341v18.6h1v-18.6zM672 341v18.2h1v-18.2zM680 341v7.2h1v-7.2zM681 341v12.5h1v-12.5zM682 341v16.8h1v-16.8zM683 341v17.0h1v-17.0zM684 341v11.1h1v-11.1zM685 341v13.7h1v-13.7zM698 341v12.9h1v-12.9zM699 341v26.0h1v-26.0zM700 341v38.3h1v-38.3zM701 341v36.3h1v-36.3zM702 341v40.8h1v-40.8zM703 341v47.9h1v-47.9zM704 341v34.8h1v-34.8zM705 341v46.8h1v-46.8zM706 341v46.4h1v-46.4zM707 341v47.3h1v-47.3zM708 341v51.6h1v-51.6zM709 341v53.1h1v-53.1zM710 341v58.0h1v-58.0zM711 341v56.9h1v-56.9zM712 341v57.4h1v-57.4zM713 341v52.3h1v-52.3zM714 341v48.0h1v-48.0zM715 341v22.8h1v-22.8zM723 341v10.4h1v-10.4zM724 341v18.8h1v-18.8zM725 341v20.6h1v-20.6zM726 341v21.5h1v-21.5zM727 341v23.6h1v-23.6zM728 341v24.8h1v-24.8zM729 341v26.9h1v-26.9zM730 341v22.2h1v-22.2zM731 341v29.0h1v-29.0zM732 341v26.6h1v-26.6zM733 341v24.8h1v-24.8zM734 341v23.5h1v-23.5zM735 341v12.5h1v-12.5zM736 341v15.1h1v-15.1zM737 341v18.8h1v-18.8zM738 341v10.5h1v-10.5zM739 341v8.4h1v-8.4zM740 341v14.6h1v-14.6zM741 341v6.5h1v-6.5zM769 341v21.7h1v-21.7zM770 341v30.0h1v-30.0zM771 341v17.2h1v-17.2zM772 341v25.5h1v-25.5zM773 341v20.6h1v-20.6zM774 341v11.6h1v-11.6zM784 341v16.0h1v-16.0zM785 341v20.5h1v-20.5zM786 341v26.6h1v-26.6zM787 341v33.4h1v-33.4zM788 341v38.1h1v-38.1zM789 341v40.9h1v-40.9zM790 341v44.0h1v-44.0zM791 341v41.4h1v-41.4zM792 341v40.1h1v-40.1zM793 341v40.4h1v-40.4zM794 341v40.3h1v-40.3zM795 341v41.0h1v-41.0zM796 341v26.4h1v-26.4zM797 341v38.5h1v-38.5zM798 341v36.0h1v-36.0zM799 341v43.9h1v-43.9zM800 341v47.0h1v-47.0zM801 341v32.8h1v-32.8zM802 341v42.4h1v-42.4zM803 341v28.1h1v-28.1zM804 341v39.3h1v-39.3zM844 341v3.5h1v-3.5zM845 341v6.8h1v-6.8zM846 341v7.0h1v-7.0zM849 341v14.0h1v-14.0zM850 341v13.7h1v-13.7zM851 341v13.9h1v-13.9zM852 341v7.6h1v-7.6zM853 341v6.8h1v-6.8zM854 341v7.0h1v-7.0zM855 341v29.0h1v-29.0zM856 341v28.7h1v-28.7zM857 341v16.4h1v-16.4zM858 341v29.0h1v-29.0zM882 341v12.4h1v-12.4zM883 341v13.2h1v-13.2zM884 341v23.7h1v-23.7zM885 341v27.8h1v-27.8zM886 341v29.3h1v-29.3zM887 341v38.7h1v-38.7zM888 341v38.9h1v-38.9zM889 341v26.3h1v-26.3zM890 341v41.0h1v-41.0zM891 341v36.8h1v-36.8zM892 341v33.9h1v-33.9zM893 341v30.8h1v-30.8zM894 341v28.2h1v-28.2zM895 341v25.3h1v-25.3zM896 341v16.5h1v-16.5zM897 341v5.7h1v-5.7zM902 341v41.9h1v-41.9zM903 341v45.7h1v-45.7zM904 341v48.0h1v-48.0zM905 341v48.7h1v-48.7zM906 341v48.3h1v-48.3zM907 341v20.6h1v-20.6zM908 341v44.0h1v-44.0zM909 341v29.3h1v-29.3zM910 341v41.3h1v-41.3zM911 341v41.4h1v-41.4zM912 341v21.4h1v-21.4zM913 341v42.6h1v-42.6zM914 341v38.4h1v-38.4zM915 341v23.7h1v-23.7zM916 341v32.8h1v-32.8zM917 341v27.8h1v-27.8zM918 341v11.0h1v-11.0zM947 341v9.5h1v-9.5zM948 341v7.1h1v-7.1zM949 341v11.1h1v-11.1zM950 341v12.4h1v-12.4zM951 341v13.7h1v-13.7zM952 341v15.4h1v-15.4zM953 341v16.3h1v-16.3zM954 341v17.0h1v-17.0zM955 341v9.9h1v-9.9zM956 341v16.5h1v-16.5zM957 341v9.5h1v-9.5zM958 341v15.2h1v-15.2zM959 341v15.2h1v-15.2zM960 341v20.3h1v-20.3zM961 341v23.7h1v-23.7zM962 341v17.8h1v-17.8zM963 341v20.1h1v-20.1zM964 341v6.8h1v-6.8zM965 341v0.6h1v-0.6z" fill="#e03d37"/>
</g>
<line x1="88" y1="291.5" x2="965" y2="291.5" stroke="#505050" stroke-width="0.9" stroke-dasharray="3.5 2.3"/>
<line x1="88" y1="392" x2="965" y2="392" stroke="#707070" stroke-width="0.9" stroke-dasharray="3.5 2.3"/>
<line x1="88" y1="341.3" x2="965" y2="341.3" stroke="#333" stroke-width="1.2" stroke-dasharray="3.5 2.3"/>
<text x="93.5" y="289" font-family="Liberation Sans, sans-serif" font-size="10" fill="#6e6e6e" stroke="#fff" stroke-width="1.3" paint-order="stroke">0.10</text>
<text x="93.5" y="389.5" font-family="Liberation Sans, sans-serif" font-size="10" fill="#6e6e6e" stroke="#fff" stroke-width="1.3" paint-order="stroke">0.10</text>
<text x="93.3" y="339" font-family="Liberation Sans, sans-serif" font-size="10" fill="#6e6e6e" stroke="#fff" stroke-width="1.3" paint-order="stroke">Base Line</text>
<line x1="81.9" y1="80" x2="81.9" y2="524.5" stroke="#9e9e9e" stroke-width="1.8"/>
<line x1="970.8" y1="80" x2="970.8" y2="524.5" stroke="#7f9fe6" stroke-width="1.6"/>
<line x1="88" y1="525" x2="965" y2="525" stroke="#e6e6e6" stroke-width="1"/>
<line x1="124.6" y1="525" x2="124.6" y2="529" stroke="#e6e6e6" stroke-width="1"/>
<text x="124.6" y="544" text-anchor="middle" font-family="Liberation Sans, sans-serif" font-size="10.6" fill="#666">2021 May</text>
<line x1="192.8" y1="525" x2="192.8" y2="529" stroke="#e6e6e6" stroke-width="1"/>
<text x="192.8" y="544" text-anchor="middle" font-family="Liberation Sans, sans-serif" font-size="10.6" fill="#666">2021 Sep</text>
<line x1="260.6" y1="525" x2="260.6" y2="529" stroke="#e6e6e6" stroke-width="1"/>
<text x="260.6" y="544" text-anchor="middle" font-family="Liberation Sans, sans-serif" font-size="10.6" fill="#666">2022 Jan</text>
<line x1="327.4" y1="525" x2="327.4" y2="529" stroke="#e6e6e6" stroke-width="1"/>
<text x="327.4" y="544" text-anchor="middle" font-family="Liberation Sans, sans-serif" font-size="10.6" fill="#666">2022 May</text>
<line x1="395.4" y1="525" x2="395.4" y2="529" stroke="#e6e6e6" stroke-width="1"/>
<text x="395.4" y="544" text-anchor="middle" font-family="Liberation Sans, sans-serif" font-size="10.6" fill="#666">2022 Sep</text>
<line x1="463.2" y1="525" x2="463.2" y2="529" stroke="#e6e6e6" stroke-width="1"/>
<text x="463.2" y="544" text-anchor="middle" font-family="Liberation Sans, sans-serif" font-size="10.6" fill="#666">2023 Jan</text>
<line x1="530.2" y1="525" x2="530.2" y2="529" stroke="#e6e6e6" stroke-width="1"/>
<text x="530.2" y="544" text-anchor="middle" font-family="Liberation Sans, sans-serif" font-size="10.6" fill="#666">2023 May</text>
<line x1="598.4" y1="525" x2="598.4" y2="529" stroke="#e6e6e6" stroke-width="1"/>
<text x="598.4" y="544" text-anchor="middle" font-family="Liberation Sans, sans-serif" font-size="10.6" fill="#666">2023 Sep</text>
<line x1="666.2" y1="525" x2="666.2" y2="529" stroke="#e6e6e6" stroke-width="1"/>
<text x="666.2" y="544" text-anchor="middle" font-family="Liberation Sans, sans-serif" font-size="10.6" fill="#666">2024 Jan</text>
<line x1="733.6" y1="525" x2="733.6" y2="529" stroke="#e6e6e6" stroke-width="1"/>
<text x="733.6" y="544" text-anchor="middle" font-family="Liberation Sans, sans-serif" font-size="10.6" fill="#666">2024 May</text>
<line x1="801.8" y1="525" x2="801.8" y2="529" stroke="#e6e6e6" stroke-width="1"/>
<text x="801.8" y="544" text-anchor="middle" font-family="Liberation Sans, sans-serif" font-size="10.6" fill="#666">2024 Sep</text>
<line x1="869.6" y1="525" x2="869.6" y2="529" stroke="#e6e6e6" stroke-width="1"/>
<text x="869.6" y="544" text-anchor="middle" font-family="Liberation Sans, sans-serif" font-size="10.6" fill="#666">2025 Jan</text>
<line x1="936.4" y1="525" x2="936.4" y2="529" stroke="#e6e6e6" stroke-width="1"/>
<text x="936.4" y="544" text-anchor="middle" font-family="Liberation Sans, sans-serif" font-size="10.6" fill="#666">2025 May</text>
<text x="73.3" y="119.6" text-anchor="end" font-family="Liberation Sans, sans-serif" font-size="12.8" fill="#1f1f1f">100K</text>
<text x="73.3" y="138.3" text-anchor="end" font-family="Liberation Sans, sans-serif" font-size="12.8" fill="#1f1f1f">90K</text>
<text x="73.3" y="159.1" text-anchor="end" font-family="Liberation Sans, sans-serif" font-size="12.8" fill="#1f1f1f">80K</text>
<text x="73.3" y="182.8" text-anchor="end" font-family="Liberation Sans, sans-serif" font-size="12.8" fill="#1f1f1f">70K</text>
<text x="73.3" y="210.1" text-anchor="end" font-family="Liberation Sans, sans-serif" font-size="12.8" fill="#1f1f1f">60K</text>
<text x="73.3" y="242.4" text-anchor="end" font-family="Liberation Sans, sans-serif" font-size="12.8" fill="#1f1f1f">50K</text>
<text x="73.3" y="282.0" text-anchor="end" font-family="Liberation Sans, sans-serif" font-size="12.8" fill="#1f1f1f">40K</text>
<text x="73.3" y="332.9" text-anchor="end" font-family="Liberation Sans, sans-serif" font-size="12.8" fill="#1f1f1f">30K</text>
<text x="73.3" y="404.8" text-anchor="end" font-family="Liberation Sans, sans-serif" font-size="12.8" fill="#1f1f1f">20K</text>
<text x="73.3" y="527.6" text-anchor="end" font-family="Liberation Sans, sans-serif" font-size="12.8" fill="#1f1f1f">10K</text>
<text x="981" y="144.2" font-family="Liberation Sans, sans-serif" font-size="12.8" fill="#1f1f1f">0.4</text>
<text x="981" y="244.7" font-family="Liberation Sans, sans-serif" font-size="12.8" fill="#1f1f1f">0.2</text>
<text x="981" y="345.2" font-family="Liberation Sans, sans-serif" font-size="12.8" fill="#1f1f1f">0</text>
<text x="981" y="445.7" font-family="Liberation Sans, sans-serif" font-size="12.8" fill="#1f1f1f">-0.2</text>
<text transform="translate(35,302) rotate(-90)" text-anchor="middle" font-family="Liberation Sans, sans-serif" font-size="12.2" fill="#222">BTC Price ($)</text>
<text x="263" y="36.4" font-family="Liberation Sans, sans-serif" font-weight="bold" font-size="20" fill="#1b1b1b" textLength="496" lengthAdjust="spacingAndGlyphs">BTC: Futures Estimated Leverage Ratio 30D Change</text>
<line x1="240.4" y1="58.5" x2="254.6" y2="58.5" stroke="#111" stroke-width="1.6"/>
<text x="258.7" y="62.2" font-family="Liberation Sans, sans-serif" font-size="12.5" fill="#222" textLength="91.6" lengthAdjust="spacingAndGlyphs">BTC Price [USD]</text>
<line x1="365.4" y1="58.5" x2="379.9" y2="58.5" stroke="#999" stroke-width="1.4"/>
<text x="383.7" y="62.2" font-family="Liberation Sans, sans-serif" font-size="12.5" fill="#8a8a8a" textLength="220.9" lengthAdjust="spacingAndGlyphs">Futures Estimated Leverage Ratio (ELR)</text>
<line x1="383.7" y1="58.2" x2="604.6" y2="58.2" stroke="#8a8a8a" stroke-width="1"/>
<circle cx="622" cy="57.3" r="6.2" fill="#7561ee"/>
<text x="633.3" y="62.2" font-family="Liberation Sans, sans-serif" font-size="12.5" fill="#222" textLength="95.2" lengthAdjust="spacingAndGlyphs">ELR 30D Change</text>
<line x1="743.2" y1="58.5" x2="757.8" y2="58.5" stroke="#a9cdf0" stroke-width="1.6"/>
<text x="761.6" y="62.2" font-family="Liberation Sans, sans-serif" font-size="12.5" fill="#222" textLength="22.6" lengthAdjust="spacingAndGlyphs">Line</text>
<rect x="5.9" y="451.7" width="119.9" height="39.2" fill="#7a7a7a" fill-opacity="0.85"/>
<text font-family="Liberation Sans, sans-serif" font-weight="bold" font-size="9.95" fill="#fff" text-anchor="middle"><tspan x="65.8" y="462.7">Mai 2021 : China</tspan><tspan x="65.8" y="474.7">initiates talks around a</tspan><tspan x="65.8" y="486.5">Bitcoin mining ban</tspan></text>
<line x1="160" y1="502.3" x2="940" y2="473.3" stroke="#e0483e" stroke-width="1.6"/>
<polygon points="154.5,502.5 162.5,498.8 162.8,506.2" fill="#e0483e"/>
<polygon points="946.5,473.1 938.3,469.6 938.6,477" fill="#e0483e"/>
<rect x="153.9" y="474.7" width="71.3" height="18.6" fill="#fff" stroke="#9a9a9a" stroke-width="1"/>
<text x="189.5" y="488.6" text-anchor="middle" font-family="Liberation Sans, sans-serif" font-weight="bold" font-size="12.3" fill="#111">ELR = -0,32</text>
<rect x="872.7" y="447.5" width="70.7" height="18.7" fill="#fff" stroke="#9a9a9a" stroke-width="1"/>
<text x="908" y="461.3" text-anchor="middle" font-family="Liberation Sans, sans-serif" font-weight="bold" font-size="12.3" fill="#111">ELR = -0,25</text>
<text x="397" y="560.5" font-family="Noto Color Emoji, sans-serif" font-size="11.5">💎🙌</text>
<text x="428.4" y="560" font-family="Liberation Sans, sans-serif" font-size="11" fill="#5a5a5a" textLength="108" lengthAdjust="spacingAndGlyphs">Daily on-chain analysis:</text>
<text x="540.6" y="560" font-family="Liberation Sans, sans-serif" font-size="11" fill="#5a5a5a" textLength="115" lengthAdjust="spacingAndGlyphs" text-decoration="underline">https://x.com/AxelAdlerJr</text>
<text x="870.5" y="561.5" font-family="Liberation Sans, sans-serif" font-size="9.6" fill="#8a8a8a" textLength="128" lengthAdjust="spacingAndGlyphs">© CryptoQuant. All rights reserved</text>
</svg></body></html>
